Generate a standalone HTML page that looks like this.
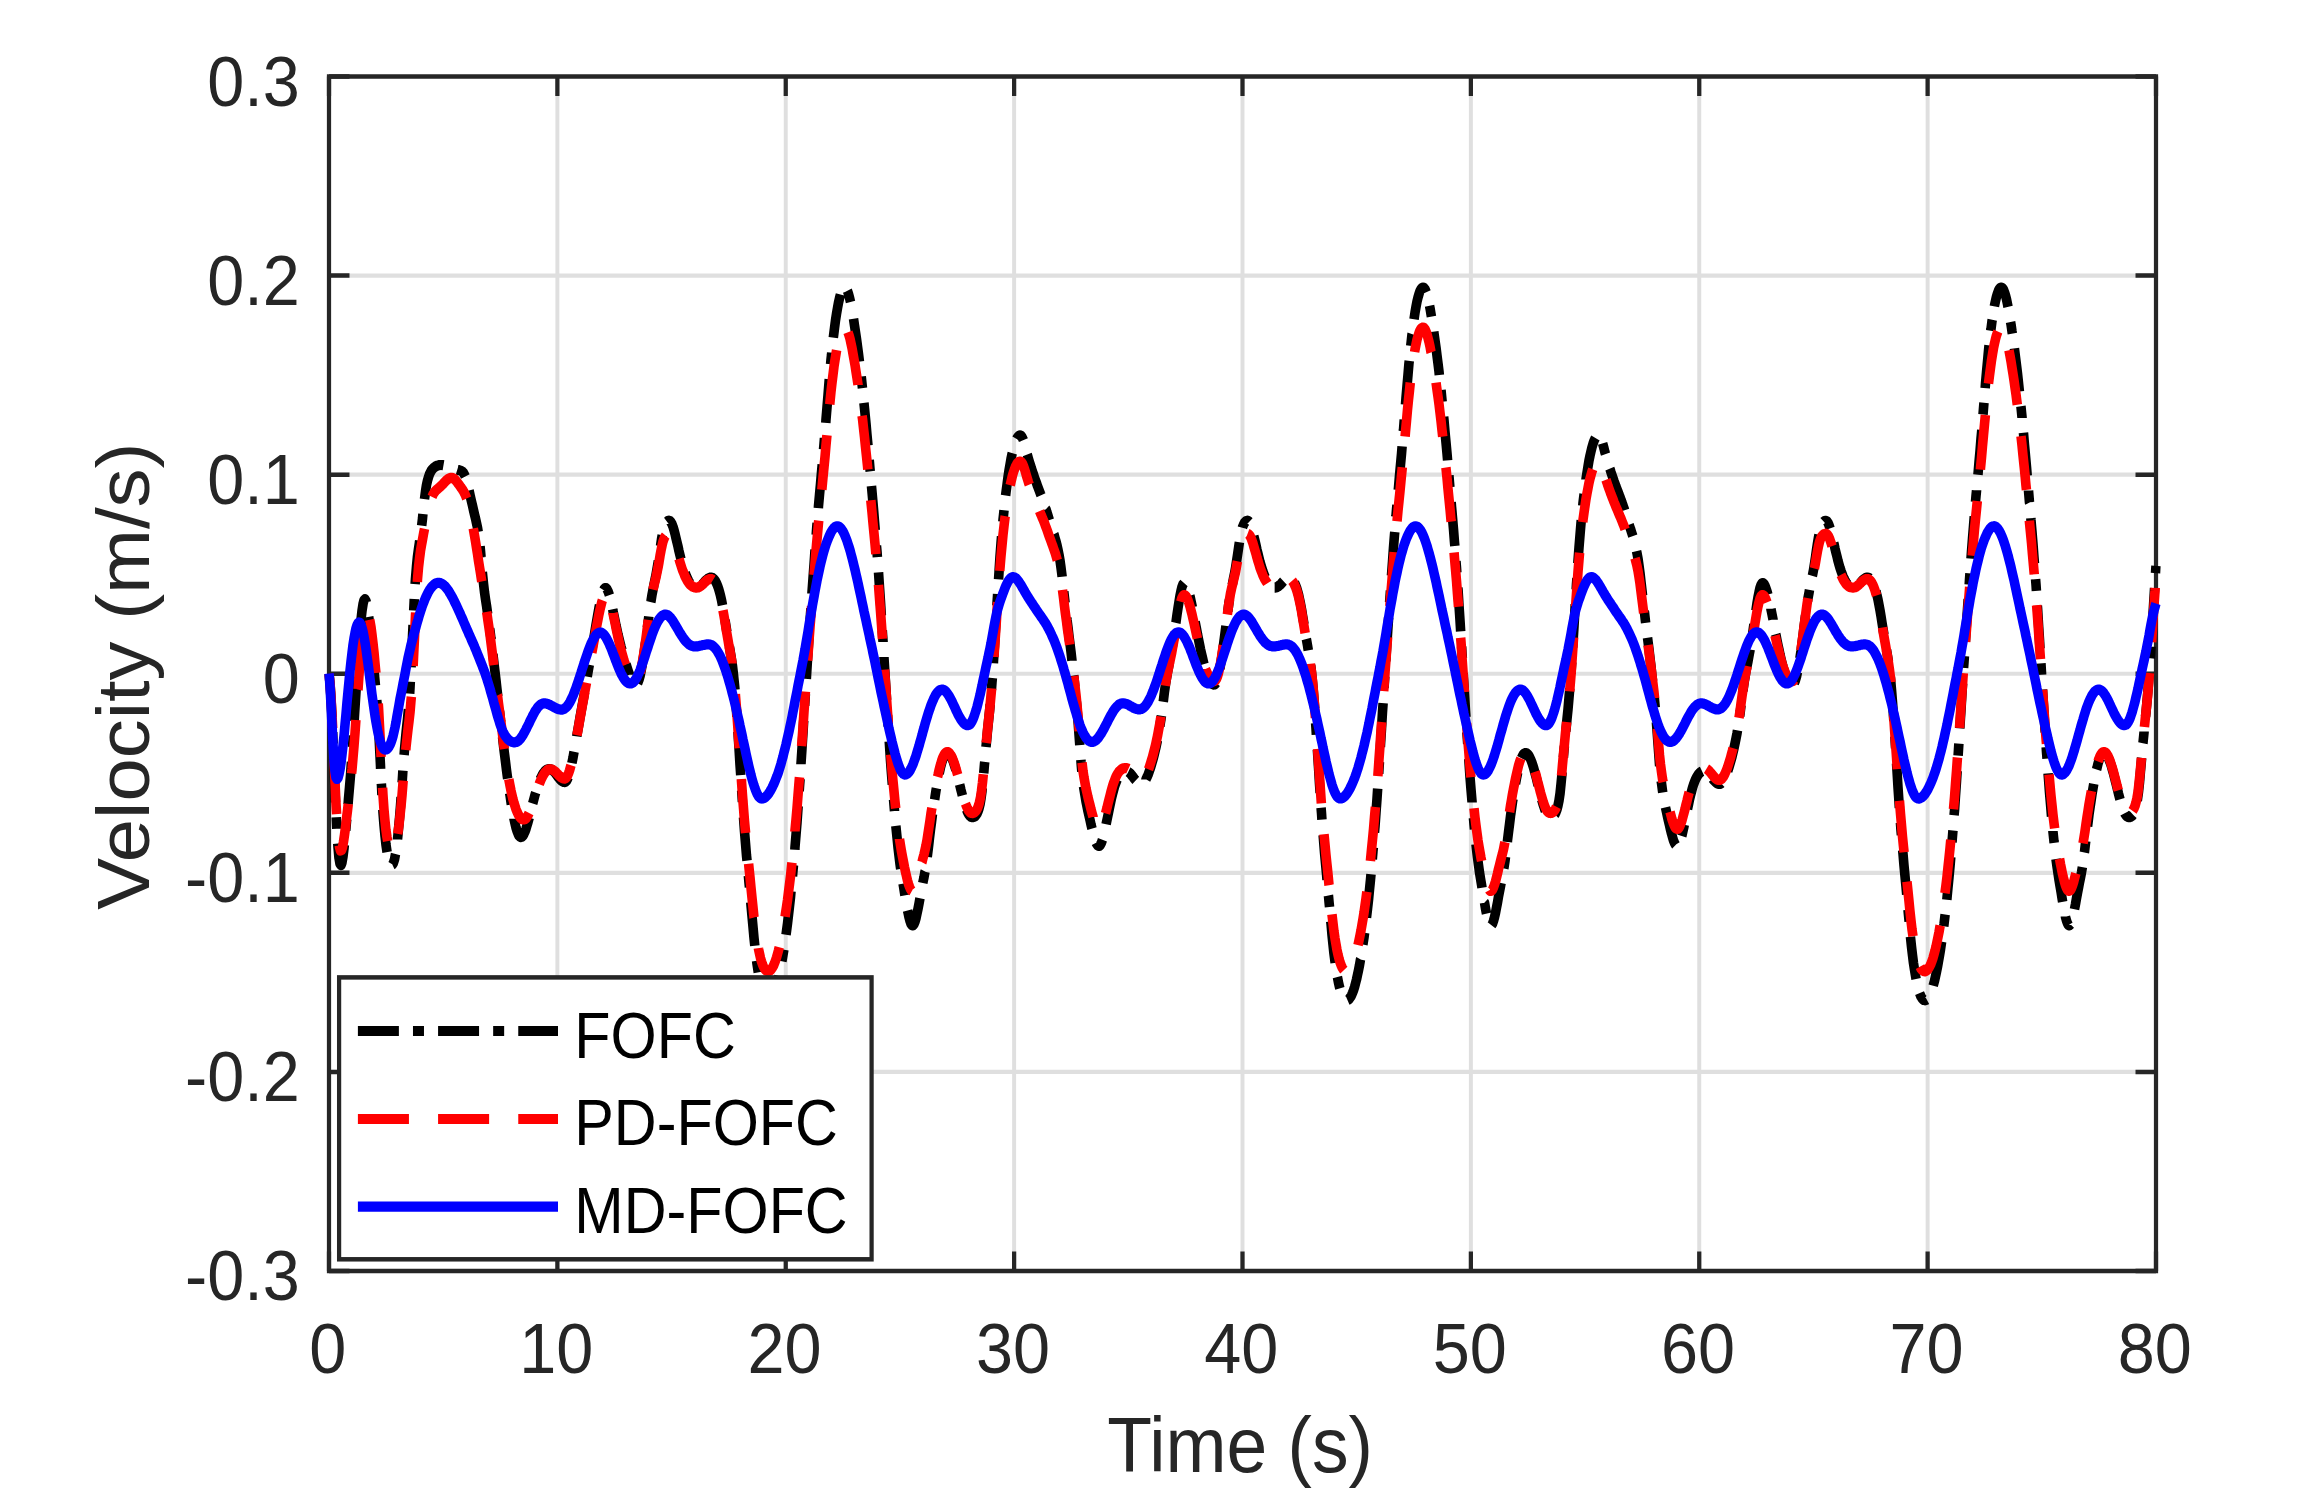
<!DOCTYPE html>
<html><head><meta charset="utf-8"><title>Velocity</title>
<style>html,body{margin:0;padding:0;background:#fff}svg{display:block}</style></head>
<body>
<svg width="2304" height="1507" viewBox="0 0 2304 1507">
<rect width="2304" height="1507" fill="#fff"/>
<g transform="scale(0.94,1)">
<path d="M592.95,76.5 V1271.0 M835.90,76.5 V1271.0 M1078.86,76.5 V1271.0 M1321.81,76.5 V1271.0 M1564.76,76.5 V1271.0 M1807.71,76.5 V1271.0 M2050.66,76.5 V1271.0 M350.00,275.58 H2293.62 M350.00,474.67 H2293.62 M350.00,673.75 H2293.62 M350.00,872.83 H2293.62 M350.00,1071.92 H2293.62" stroke="#dfdfdf" stroke-width="4.2" fill="none"/>
<path d="M350.00,1271.0 v-19.5 M350.00,76.5 v19.5 M592.95,1271.0 v-19.5 M592.95,76.5 v19.5 M835.90,1271.0 v-19.5 M835.90,76.5 v19.5 M1078.86,1271.0 v-19.5 M1078.86,76.5 v19.5 M1321.81,1271.0 v-19.5 M1321.81,76.5 v19.5 M1564.76,1271.0 v-19.5 M1564.76,76.5 v19.5 M1807.71,1271.0 v-19.5 M1807.71,76.5 v19.5 M2050.66,1271.0 v-19.5 M2050.66,76.5 v19.5 M2293.62,1271.0 v-19.5 M2293.62,76.5 v19.5 M350.00,76.50 h21.8 M2293.62,76.50 h-21.8 M350.00,275.58 h21.8 M2293.62,275.58 h-21.8 M350.00,474.67 h21.8 M2293.62,474.67 h-21.8 M350.00,673.75 h21.8 M2293.62,673.75 h-21.8 M350.00,872.83 h21.8 M2293.62,872.83 h-21.8 M350.00,1071.92 h21.8 M2293.62,1071.92 h-21.8 M350.00,1271.00 h21.8 M2293.62,1271.00 h-21.8" stroke="#262626" stroke-width="4.5" fill="none"/>
<rect x="350.00" y="76.5" width="1943.62" height="1194.5" fill="none" stroke="#262626" stroke-width="4.5"/>
<clipPath id="c"><rect x="344.90" y="71.4" width="1953.82" height="1204.7"/></clipPath>
<g clip-path="url(#c)" fill="none" stroke-linejoin="round" stroke-width="10.2">
<path d="M350.0,673.8 350.0,673.8 351.1,683.8 352.1,698.0 353.2,717.2M353.9,732.2 354.3,741.0 354.4,743.8M355.0,758.8 355.3,766.0 356.4,790.6 356.9,802.3M357.7,817.3 358.0,823.2 358.3,828.8M359.3,843.5 359.6,847.4 360.6,857.9 361.7,863.7 362.8,865.2 363.8,862.6 364.9,856.6 366.0,848.1 366.3,845.1M367.8,830.5 368.1,827.2 368.6,821.7 368.9,819.1M370.3,804.4 370.7,799.2 371.8,787.4 372.9,775.1 373.9,761.8M375.0,747.1 375.5,739.7 375.8,735.7M376.8,721.0 377.1,715.7 378.2,699.4 379.3,683.0 379.6,678.3M380.6,663.7 380.9,659.4 381.4,652.2M382.5,637.5 383.0,631.6 384.0,620.1 385.1,610.8 386.2,604.1 387.2,600.2 388.3,599.2 389.4,601.1 389.7,602.4M392.2,616.9 392.6,619.5 393.1,624.0 393.6,628.3M395.1,642.9 395.2,644.1 396.3,654.8 397.3,665.3 398.4,675.5 399.4,685.4M400.8,700.1 401.1,703.4 401.6,710.4 401.7,711.5M402.6,726.2 402.7,726.5 403.7,745.5 404.8,766.3 404.9,768.9M405.7,783.6 405.9,786.5 406.3,795.1M407.3,809.7 407.4,812.0 408.5,825.2 409.6,835.9 410.6,844.6 411.7,851.6 411.8,852.2M417.4,864.6 417.6,864.5 418.6,862.8 419.7,859.4 420.7,854.3 420.8,853.9M422.9,839.4 422.9,839.2 423.9,829.4 425.0,818.2 426.1,805.5 426.7,797.1M427.8,782.6 428.2,776.8 428.6,770.7M429.9,755.0 430.3,749.6 431.4,738.5 432.4,728.8 433.5,719.3 434.5,709.3M435.8,693.6 436.2,687.4 436.5,681.8M437.3,667.3 437.8,658.6 438.8,637.0 439.4,625.1M440.1,610.6 440.4,604.9 440.7,599.1M441.6,584.1 442.0,578.6 443.1,566.1 444.1,556.6 445.2,548.9 446.3,542.1 446.5,540.6M448.6,525.7 448.9,523.1 449.5,518.4 449.9,514.0M451.6,499.1 451.6,499.1 452.7,491.2 453.7,485.2 454.8,480.5 455.9,476.9 456.9,474.2 458.0,472.1 459.0,470.4 460.1,469.1 461.2,468.0 462.2,467.2 463.3,466.5 464.4,466.0 465.4,465.6 466.5,465.3 467.6,465.1 468.6,465.0 469.7,465.0 470.7,465.1 471.8,465.3 471.8,465.3M486.4,469.8 486.7,469.9 487.8,470.1 488.8,470.3 489.9,470.6 491.0,471.1 492.0,471.8 493.1,472.9 494.1,474.7 495.0,476.5M499.0,490.5 499.5,492.6 500.5,497.1 501.6,501.4 502.7,505.7 503.7,510.0 504.8,514.4 505.9,518.6 506.9,523.0 508.0,527.7 508.7,531.8M510.7,546.3 511.2,551.2 511.7,556.8 511.8,557.6M513.1,572.1 513.3,573.9 514.4,583.8 515.4,592.0 516.5,599.2 517.6,605.9 518.6,612.8 518.8,614.1M520.9,628.6 521.3,630.9 522.3,638.6 522.5,639.8M524.4,654.3 524.5,654.9 525.5,663.4 526.6,672.0 527.7,680.7 528.7,689.4 529.6,696.4M531.4,710.9 531.4,711.0 532.4,719.7 532.8,722.2M534.5,736.7 534.6,736.9 535.6,745.4 536.7,753.8 537.8,762.0 538.8,769.9 539.9,777.6 540.1,778.7M542.2,793.1 542.6,795.4 543.6,801.9 544.0,804.4M546.8,818.7 546.8,818.9 547.9,823.5 548.9,827.6 550.0,831.0 551.1,833.6 552.1,835.6 553.2,836.7 554.3,837.1 555.3,836.7 556.4,835.6 557.4,833.9 558.5,831.6 559.6,828.8 560.6,825.6 561.7,822.1 562.8,818.3 563.0,817.6M566.7,803.5 567.0,802.5 568.1,798.7 569.1,795.0 569.9,792.6M574.9,778.9 575.0,778.6 576.1,776.5 577.1,774.6 578.2,773.0 579.3,771.7 580.3,770.7 581.4,769.9 582.4,769.4 583.5,769.1 584.6,769.0 585.6,769.2 586.7,769.6 587.8,770.2 588.8,771.1 589.9,772.1 591.0,773.3 592.0,774.6 593.1,776.0 594.1,777.3 595.2,778.5 596.3,779.7 597.3,780.6 598.4,781.4 599.5,781.9 600.5,782.1 601.6,781.8 602.7,780.8 603.7,779.0 604.5,777.2M608.4,763.2 608.5,762.6 609.6,757.6 610.6,752.2 610.7,751.7M613.6,736.4 613.8,735.0 614.9,729.2 616.0,723.4 617.0,717.7 618.1,712.1 619.1,706.6 620.2,701.0 621.3,695.4 621.9,692.0M624.7,676.7 625.0,675.0 626.1,669.1 626.9,664.8M629.7,649.5 629.8,648.7 630.9,642.9 631.9,637.0 633.0,631.0 634.0,625.0 635.1,619.1 636.2,613.3 637.2,607.8 637.8,605.0M642.1,590.1 642.6,589.3 643.6,588.2 644.7,588.1 645.7,589.1 646.8,591.1 647.9,594.0 648.3,595.2M651.8,609.3 652.1,610.9 653.2,615.7 654.3,620.6 655.3,625.3 656.4,629.9 657.4,634.3 658.5,638.6 659.6,642.7 660.6,646.6 661.7,650.3M666.0,664.1 666.5,665.7 667.6,668.9 668.6,671.9 669.7,674.7 669.7,674.8M678.3,683.2 678.7,682.4 679.8,679.7 680.9,676.1 681.9,671.5 683.0,666.1 684.0,660.1 685.1,653.5 686.2,646.3 686.8,642.1M688.7,627.7 688.8,626.9 689.9,619.0 690.2,616.5M692.3,602.1 692.6,600.8 693.6,594.8 694.7,589.7 695.7,584.5 696.8,579.6 697.9,574.7 698.9,569.3 700.0,563.2 700.4,560.7M702.6,546.4 702.7,546.0 703.7,539.5 704.5,535.2M709.6,521.8 709.6,521.8 710.6,521.0 711.7,520.7 712.8,521.1 713.8,522.2 714.9,524.1 716.0,526.8 717.0,530.1 718.1,533.9 719.1,538.0 720.2,542.2 721.3,546.6 722.3,551.0 723.4,555.2 724.4,559.0M729.0,573.2 729.3,573.8 730.3,576.4 731.4,578.6 732.4,580.6 733.5,582.4 734.4,583.5M747.0,584.4 747.3,584.1 748.4,583.0 749.5,581.9 750.5,580.8 751.6,579.8 752.7,579.0 753.7,578.3 754.8,577.8 755.9,577.5 756.9,577.6 758.0,577.9 759.0,578.7 760.1,579.8 761.2,581.3 762.2,583.2 763.3,585.6 764.4,588.5 765.4,591.8 766.5,595.7 767.6,600.2 768.6,605.3M771.3,620.1 771.8,623.1 772.9,629.5 773.2,631.7M775.9,646.5 776.1,647.4 777.1,653.2 778.2,659.4 779.3,666.4 780.3,674.7 781.4,684.7 781.9,689.8M783.1,704.8 783.5,710.5 783.9,716.6M785.0,731.6 785.1,733.0 786.2,748.6 787.2,764.4 788.0,775.2M789.0,790.3 789.4,796.0 789.8,802.0M790.9,817.0 791.0,817.8 792.0,831.1 793.1,843.5 794.1,855.1 794.7,860.6M796.1,875.6 796.3,877.3 796.8,882.7 797.3,887.3M798.7,902.3 798.9,904.8 800.0,916.0 801.1,927.2 802.1,937.8 803.0,945.8M804.9,960.8 805.3,963.7 806.4,970.5 806.7,972.4M809.8,987.1 810.1,988.2 811.2,991.7 812.2,994.6 813.3,996.8 814.4,998.4 815.4,999.5 816.5,1000.1 817.6,1000.3 818.6,1000.0 819.7,999.3 820.7,998.2 821.8,996.6 822.9,994.6 823.9,992.2 825.0,989.4 826.1,986.1 827.1,982.4 828.2,978.2 828.7,976.0M831.8,961.2 831.9,960.7 833.0,954.9 833.9,949.7M836.2,934.8 836.7,931.2 837.8,923.4 838.8,915.1 839.9,906.2 841.0,896.8 841.5,891.4M843.1,876.4 843.1,876.3 844.1,865.2 844.2,864.7M845.6,849.7 845.7,847.6 846.8,835.1 847.9,822.2 848.9,808.6 849.1,806.1M850.2,791.1 850.5,787.0 851.1,779.4 851.1,779.3M852.1,764.3 852.1,764.0 853.2,748.1 854.3,732.0 855.0,720.6M856.0,705.6 856.4,699.6 856.8,693.9M857.8,678.9 858.0,675.7 859.0,660.2 860.1,644.8 860.8,635.2M861.8,620.2 862.2,614.7 862.7,608.5M863.8,593.5 863.8,592.7 864.9,578.4 866.0,564.4 867.0,550.7 867.1,549.8M868.3,534.8 868.6,531.0 869.1,524.6 869.3,523.1M870.6,508.1 870.7,506.5 871.8,495.0 872.9,483.8 873.9,472.6 874.7,464.5M876.1,449.5 876.6,444.0 877.1,438.1 877.1,437.8M878.5,422.8 878.7,419.7 879.8,407.2 880.9,394.8 881.9,382.7 882.2,379.2M883.6,364.2 884.0,360.1 884.6,354.9 884.8,352.6M886.5,337.6 886.7,336.2 887.8,328.0 888.8,320.6 889.9,313.9 891.0,307.9 892.0,302.7 893.1,298.2 894.1,294.5M901.5,290.8 901.6,291.0 902.7,294.0 903.7,297.7 904.8,302.1 904.8,302.1M908.0,318.8 908.0,318.8 909.0,325.2 910.1,332.0 911.2,339.0 912.2,346.3 913.3,353.9 914.3,361.7M916.2,376.5 916.5,379.0 917.0,383.5 917.5,388.1M919.1,402.9 919.1,402.9 920.2,413.2 921.3,423.8 922.3,434.7 923.4,445.4M924.7,460.0 925.0,462.9 925.5,468.6 925.8,471.4M927.1,486.0 927.1,486.0 928.2,497.6 929.3,509.3 930.3,521.1 931.1,530.1M932.4,545.3 932.4,545.7 933.0,552.1 933.4,557.2M934.6,572.4 934.6,572.4 935.6,586.7 936.7,601.8 937.6,615.6M938.6,630.4 938.8,633.4 939.4,641.5 939.4,642.0M940.4,656.9 940.4,657.9 941.5,674.4 942.6,690.8 943.2,700.1M944.2,715.0 944.7,722.8 944.9,726.6M946.0,741.5 946.3,745.7 947.3,760.2 948.4,773.9 949.3,784.7M950.6,799.5 951.1,805.2 951.6,811.0 951.6,811.1M953.0,825.9 953.2,827.5 954.3,837.6 955.3,847.1 956.4,855.8 957.4,863.7 958.2,868.9M960.7,883.6 961.2,886.4 962.2,892.5 962.7,895.3M965.5,910.5 966.0,912.6 967.0,917.2 968.1,921.0 969.1,923.7 970.2,925.2 971.3,925.4 972.3,924.1 973.4,921.6 974.5,918.1 975.5,913.7 976.6,908.8 977.7,903.5 978.7,898.2M981.7,883.1 981.9,882.1 983.0,877.1 984.0,871.7 984.1,871.5M986.4,856.9 986.7,854.7 987.8,846.6 988.8,838.1 989.9,829.7 991.0,821.7 992.0,814.2M994.3,799.6 994.7,797.0 995.7,790.7 996.2,788.2M999.1,773.6 999.5,771.8 1000.5,767.3 1001.6,763.5 1002.7,760.1 1003.7,757.4 1004.8,755.4 1005.9,753.9 1006.9,753.1 1008.0,753.0 1009.0,753.4 1010.1,754.3 1011.2,755.6 1012.2,757.4 1013.3,759.7 1014.4,762.3 1015.4,765.3 1016.5,768.6 1016.9,770.0M1020.9,784.4 1021.3,786.0 1022.3,790.0 1023.4,794.0 1023.8,795.6M1028.3,809.7 1028.7,810.7 1029.8,813.0 1030.9,814.8 1031.9,816.0 1033.0,816.8 1034.0,817.1 1035.1,817.2 1036.2,816.9 1037.2,816.3 1038.3,815.2 1039.4,813.6 1040.4,811.4 1041.5,808.4 1042.6,804.3 1043.6,798.7 1044.7,791.0 1045.0,788.0M1046.5,773.3 1046.8,770.2 1047.3,764.4 1047.6,761.8M1048.9,747.0 1049.5,741.6 1050.5,731.3 1051.6,721.3 1052.7,711.3 1053.4,704.3M1054.7,689.5 1054.8,688.8 1055.3,682.4 1055.7,678.0M1056.8,663.3 1056.9,661.2 1058.0,645.6 1059.0,629.2 1059.6,620.3M1060.5,605.6 1060.6,604.1 1061.2,595.8 1061.3,594.0M1062.3,579.3 1062.8,571.8 1063.8,557.0 1064.9,543.3 1065.5,536.4M1066.9,521.6 1067.0,520.0 1067.6,514.8 1068.1,510.2M1069.8,495.5 1070.2,492.3 1071.3,484.6 1072.3,477.4 1073.4,470.7 1074.5,464.7 1075.5,459.2 1076.6,454.2 1076.9,453.1M1081.5,439.0 1081.9,438.3 1083.0,436.8 1084.0,435.8 1085.1,435.4 1086.2,435.8 1087.2,437.0 1088.3,439.2 1088.7,440.2M1092.8,454.5 1093.1,455.3 1094.1,458.8 1095.2,462.2 1096.3,465.4 1097.3,468.5 1098.4,471.6 1099.5,474.6 1100.5,477.6 1101.6,480.4 1102.7,483.2 1103.7,485.9 1104.8,488.6 1105.9,491.3 1106.9,493.9 1107.5,495.3M1112.7,509.2 1112.8,509.3 1113.8,512.5 1114.9,515.7 1116.0,519.0 1116.4,520.2M1121.2,534.3 1121.3,534.5 1122.3,537.9 1123.4,541.4 1124.5,545.4 1125.5,549.7 1126.6,554.8 1127.7,560.7 1128.7,567.6 1129.8,575.6 1129.9,576.7M1131.7,591.5 1131.9,593.3 1133.0,602.4 1133.1,603.0M1134.9,617.8 1135.1,619.6 1136.2,627.8 1137.2,635.8 1138.3,643.9 1139.4,652.1 1140.4,660.6 1140.4,660.7M1142.2,675.5 1142.6,678.4 1143.1,683.0 1143.5,687.1M1145.1,701.9 1145.2,702.8 1146.3,714.2 1147.3,727.2 1148.4,741.2 1148.7,745.1M1149.9,759.9 1150.0,761.6 1150.5,767.5 1150.9,771.5M1152.7,786.3 1153.2,789.3 1154.3,795.7 1155.3,801.3 1156.4,806.4 1157.4,811.1 1158.5,815.6 1159.6,820.0 1160.6,824.4 1161.7,828.6M1166.1,842.8 1166.5,843.6 1167.6,845.2 1168.6,845.9 1169.7,845.8 1170.7,844.7 1171.8,842.6 1172.8,839.8M1176.7,824.3 1177.1,822.4 1178.2,817.5 1179.3,812.5 1180.3,807.7 1181.4,802.9 1182.4,798.4 1183.5,794.2 1184.6,790.3 1185.6,786.9 1186.7,783.8 1187.8,781.1 1188.5,779.5M1200.3,771.9 1200.5,772.0 1201.6,772.8 1202.7,773.8 1203.7,775.0 1204.8,776.2 1205.9,777.6 1206.9,778.9 1208.0,780.1 1208.3,780.4M1219.1,779.4 1219.1,779.3 1220.2,777.2 1221.3,774.9 1222.3,772.2 1223.4,769.3 1224.5,766.1 1225.5,762.8 1226.6,759.2 1227.7,755.4 1228.7,751.3 1229.8,746.9 1230.9,742.2 1231.2,740.4M1233.9,726.6 1234.0,725.5 1235.1,718.8 1235.6,715.7M1237.5,701.7 1237.8,699.5 1238.8,691.7 1239.9,684.5 1241.0,678.2 1242.0,672.5 1243.1,667.2 1244.1,662.1 1244.3,661.4M1247.0,647.5 1247.3,645.6 1248.4,639.2 1248.8,636.7M1250.9,622.8 1251.1,621.9 1252.1,614.9 1253.2,608.0 1254.3,601.6 1255.3,595.8 1256.4,590.8 1257.4,586.9 1258.5,584.3 1259.6,583.0M1265.8,595.9 1266.0,596.5 1267.0,600.9 1268.1,605.6 1268.4,607.2M1271.4,621.8 1271.8,623.8 1272.9,629.0 1273.9,634.2 1275.0,639.3 1276.1,644.3 1277.1,649.1 1278.2,653.7 1279.3,658.1 1280.3,662.2 1280.8,664.1M1285.8,678.2 1286.2,678.9 1287.2,680.7 1288.3,682.2 1289.4,683.4 1290.4,684.2 1291.5,684.6 1292.6,684.4 1293.6,683.0M1297.7,668.7 1297.9,667.8 1298.9,662.0 1300.0,655.5 1301.1,648.5 1302.1,641.1 1303.2,633.3 1304.2,625.9M1306.2,611.1 1306.4,609.8 1307.4,602.7 1308.0,599.6M1310.9,585.0 1311.2,583.5 1312.2,578.6 1313.3,573.6 1314.4,568.1 1315.4,561.9 1316.5,555.1 1317.6,548.1 1318.5,542.3M1321.7,527.7 1321.8,527.3 1322.9,524.7 1323.9,522.8 1325.0,521.6 1326.1,520.9 1327.1,520.7 1328.2,521.2 1328.9,521.9M1333.8,535.9 1334.0,536.7 1335.1,540.9 1336.2,545.3 1337.2,549.7 1338.3,553.9 1339.4,558.0 1340.4,561.9 1341.5,565.4 1342.6,568.7 1343.6,571.6 1344.7,574.4 1345.7,576.9 1346.0,577.5M1356.0,587.6 1356.4,587.6 1357.4,587.5 1358.5,587.1 1359.6,586.5 1360.6,585.8 1361.7,584.9 1362.8,583.9 1363.8,582.8 1364.9,581.7 1365.4,581.2M1377.0,582.3 1377.1,582.6 1378.2,584.9 1379.3,587.6 1380.3,590.8 1381.4,594.5 1382.4,598.8 1383.5,603.7 1384.6,609.2 1385.6,615.0 1386.7,621.2 1387.2,624.3M1389.7,639.0 1389.9,639.8 1391.0,645.6 1391.8,650.4M1394.3,665.1 1394.7,667.9 1395.7,676.5 1396.8,687.0 1397.9,699.4 1398.6,708.3M1399.6,723.2 1400.0,728.4 1400.4,734.8M1401.5,749.7 1401.6,751.7 1402.7,767.6 1403.7,783.5 1404.4,792.9M1405.4,807.8 1405.9,813.6 1406.3,819.6M1407.6,835.1 1408.0,839.8 1409.0,851.7 1410.1,863.0 1411.2,874.0 1411.7,879.9M1413.2,895.4 1413.3,895.9 1413.8,901.4 1414.4,907.0M1415.7,921.3 1416.0,923.9 1417.0,934.7 1418.1,944.7 1419.1,953.6 1420.2,961.5 1420.4,962.9M1422.8,977.1 1422.9,977.5 1423.9,982.6 1425.0,987.0 1425.4,988.4M1433.5,1000.1 1433.5,1000.1 1434.6,999.6 1435.6,998.6 1436.7,997.1 1437.8,995.3 1438.8,993.0 1439.9,990.3 1441.0,987.1 1442.0,983.5 1443.1,979.5 1444.1,975.1 1445.2,970.3 1446.3,965.1 1447.3,959.6 1447.4,959.4M1449.9,944.5 1450.0,944.0 1451.1,937.1 1451.7,932.8M1453.7,917.9 1453.7,917.6 1454.8,908.9 1455.9,899.7 1456.9,889.8 1458.0,879.5 1458.5,874.3M1459.9,859.2 1460.1,857.1 1460.6,851.2 1461.0,847.5M1462.2,832.5 1462.8,826.1 1463.8,812.8 1464.9,798.7 1465.6,788.7M1466.7,773.7 1467.0,768.7 1467.5,761.9M1468.5,746.9 1468.6,744.9 1469.7,728.7 1470.7,712.5 1471.4,703.1M1472.4,688.0 1472.9,680.5 1473.2,676.3M1474.2,661.2 1474.5,657.1 1475.5,641.8 1476.6,626.7 1477.3,617.4M1478.3,602.4 1478.7,597.1 1479.2,590.6M1480.3,575.6 1480.3,575.6 1481.4,561.6 1482.4,548.0 1483.5,534.8 1483.8,531.9M1485.0,516.8 1485.1,516.0 1485.6,510.1 1486.1,505.1M1487.5,490.1 1487.8,487.2 1488.8,476.0 1489.9,464.8 1491.0,453.4 1491.6,446.4M1492.9,431.3 1493.1,429.6 1493.6,423.4 1493.9,419.6M1495.2,404.6 1495.7,398.5 1496.8,386.3 1497.9,374.5 1498.9,363.3 1499.2,360.9M1500.8,345.9 1501.1,343.3 1502.1,334.5 1502.2,334.2M1504.3,319.2 1504.3,319.2 1505.3,312.7 1506.4,306.8 1507.4,301.8 1508.5,297.5 1509.6,293.9 1510.6,291.1 1511.7,289.1 1512.8,287.9 1513.8,287.5 1514.9,288.0 1516.0,289.3 1517.0,291.6 1517.3,292.3M1520.8,305.7 1521.3,308.2 1522.3,313.9 1522.8,316.7M1525.3,331.6 1525.5,333.4 1526.6,340.5 1527.7,347.8 1528.7,355.5 1529.8,363.5 1530.9,371.9 1531.2,375.1M1533.0,390.1 1533.0,390.1 1534.0,399.9 1534.2,401.8M1535.8,416.8 1536.2,420.6 1537.2,431.4 1538.3,442.4 1539.4,453.7 1540.0,460.4M1541.4,475.4 1541.5,476.7 1542.0,482.5 1542.4,487.2M1543.8,502.2 1544.1,505.8 1545.2,517.5 1546.3,529.5 1547.3,541.8 1547.7,545.9M1548.9,560.9 1548.9,561.3 1549.5,568.2 1549.8,572.6M1550.9,587.7 1551.1,589.7 1552.1,604.8 1553.2,620.5 1553.9,631.4M1554.9,646.5 1555.3,653.0 1555.7,658.2M1556.6,673.3 1556.9,677.7 1558.0,694.1 1559.0,710.2 1559.5,717.1M1560.5,732.1 1560.6,733.7 1561.2,741.2 1561.4,743.8M1562.5,758.9 1562.8,763.0 1563.8,776.6 1564.9,789.5 1566.0,801.7 1566.0,802.6M1567.4,817.6 1567.6,818.9 1568.1,824.3 1568.6,829.3M1570.2,844.3 1570.7,848.8 1571.8,857.4 1572.9,865.1 1573.9,872.1 1575.0,878.5 1576.1,884.6 1576.6,887.7M1579.2,902.6 1579.3,902.7 1580.3,908.4 1581.4,913.6 1581.4,913.6M1586.7,925.2 1586.7,925.2 1587.8,923.7 1588.8,921.0 1589.9,917.3 1591.0,912.8 1592.0,907.8 1593.1,902.4 1594.1,896.9 1595.2,891.4 1596.3,886.1 1596.9,883.1M1599.8,868.4 1600.0,867.5 1601.1,860.7 1601.6,856.8M1603.6,842.0 1603.7,840.7 1604.8,832.2 1605.9,824.0 1606.9,816.3 1608.0,809.1 1609.0,802.2 1609.6,798.8M1612.2,784.0 1612.2,783.7 1613.3,778.2 1614.4,773.2 1614.5,772.6M1618.6,758.2 1618.6,758.2 1619.7,755.9 1620.7,754.3 1621.8,753.3 1622.9,753.0 1623.9,753.2 1625.0,754.0 1626.1,755.2 1627.1,756.9 1628.2,759.0 1629.3,761.5 1630.3,764.3 1631.4,767.5 1632.4,771.0 1633.5,774.8 1634.6,778.7 1635.6,782.7 1636.3,785.4M1640.2,799.7 1640.4,800.5 1641.5,804.0 1642.6,807.2 1643.6,810.0 1643.9,810.6M1654.2,814.3 1654.3,814.2 1655.3,812.2 1656.4,809.4 1657.4,805.7 1658.5,800.6 1659.6,793.6 1660.6,784.5 1661.7,773.7 1661.8,772.2M1663.2,757.5 1663.3,756.2 1663.8,750.4 1664.3,746.0M1665.7,731.3 1666.0,729.2 1667.0,719.3 1668.1,709.2 1669.1,698.3 1670.0,688.4M1671.2,673.7 1671.3,672.9 1671.8,665.7 1672.1,662.1M1673.1,647.4 1673.4,642.4 1674.5,625.9 1675.5,609.2 1675.8,604.4M1676.8,589.6 1677.1,584.4 1677.6,578.1M1678.6,563.3 1678.7,561.3 1679.8,547.3 1680.9,534.6 1681.9,523.2 1682.2,520.4M1683.8,505.7 1684.0,503.4 1685.1,494.8 1685.2,494.2M1687.2,479.6 1687.2,479.5 1688.3,472.7 1689.4,466.4 1690.4,460.7 1691.5,455.6 1692.6,451.1 1693.6,447.2 1694.7,443.8 1695.7,441.0 1696.8,438.8 1697.3,437.9M1704.9,443.3 1705.3,444.7 1706.4,448.5 1707.4,452.4 1708.0,454.2M1712.6,468.7 1712.8,469.2 1713.8,472.2 1714.9,475.2 1716.0,478.2 1717.0,481.0 1718.1,483.8 1719.1,486.5 1720.2,489.2 1721.3,491.8 1722.3,494.5 1723.4,497.1 1724.5,499.8 1725.5,502.6 1726.6,505.4 1727.7,508.4 1728.3,510.3M1733.1,524.8 1733.5,525.9 1734.6,528.9 1735.6,532.0 1736.7,535.2 1737.0,536.1M1741.0,551.1 1741.5,553.2 1742.6,558.8 1743.6,565.4 1744.7,573.1 1745.7,581.6 1746.8,590.6 1747.4,595.7M1749.2,611.1 1749.5,612.9 1750.5,621.3 1750.7,622.9M1752.7,637.8 1753.2,641.5 1754.3,649.6 1755.3,658.1 1756.4,666.7 1757.4,675.7 1758.1,681.1M1759.7,696.0 1760.1,699.7 1760.6,705.0 1760.9,707.6M1762.2,722.6 1762.2,723.1 1763.3,736.9 1764.4,751.1 1765.4,764.0 1765.6,766.1M1767.2,781.0 1767.6,783.4 1768.6,790.6 1768.9,792.6M1771.8,807.3 1771.8,807.3 1772.9,812.0 1773.9,816.5 1775.0,820.9 1776.1,825.3 1777.1,829.5 1778.2,833.6 1779.3,837.2 1780.3,840.4 1781.4,843.0 1782.4,844.8 1782.6,845.0M1789.1,836.0 1789.4,835.1 1790.4,830.8 1791.5,826.2 1791.8,824.8M1795.2,809.1 1795.2,809.1 1796.3,804.3 1797.3,799.7 1798.4,795.4 1799.5,791.5 1800.5,787.9 1801.6,784.7 1802.7,781.9 1803.7,779.5 1804.8,777.5 1805.9,775.7 1806.9,774.3 1808.0,773.1 1809.0,772.2 1810.1,771.6 1810.7,771.3M1822.0,778.7 1822.3,779.1 1823.4,780.4 1824.5,781.5 1825.5,782.5 1826.6,783.2 1827.7,783.8 1828.7,784.0 1829.8,783.9 1830.9,783.5 1831.0,783.4M1838.0,771.0 1838.3,770.2 1839.4,767.1 1840.4,763.8 1841.5,760.3 1842.6,756.5 1843.6,752.5 1844.7,748.2 1845.7,743.6 1846.8,738.6 1847.9,733.2 1848.4,730.4M1850.7,716.2 1851.1,713.7 1852.1,705.9 1852.2,705.1M1854.2,690.8 1854.3,690.2 1855.3,683.2 1856.4,677.0 1857.4,671.4 1858.5,666.2 1859.6,661.1 1860.6,655.9 1861.7,650.3 1861.8,649.6M1864.2,635.4 1864.4,634.5 1865.4,627.6 1865.9,624.3M1868.1,610.1 1868.1,610.0 1869.1,603.4 1870.2,597.4 1871.3,592.2 1872.3,588.0 1873.4,584.9 1874.5,583.2 1875.5,583.0 1876.6,584.0 1877.7,585.8 1878.7,588.3 1879.8,591.5 1880.7,594.7M1884.0,608.7 1884.0,609.1 1885.1,614.3 1886.2,619.5 1886.2,619.8M1889.1,634.2 1889.4,635.3 1890.4,640.3 1891.5,645.3 1892.6,650.0 1893.6,654.6 1894.7,658.9 1895.7,663.0 1896.8,666.7 1897.9,670.1 1898.9,673.2 1899.8,675.4M1908.8,683.0 1909.0,682.6 1910.1,680.1 1911.2,676.5 1912.2,672.2M1914.9,657.7 1914.9,657.5 1916.0,650.7 1917.0,643.4 1918.1,635.6 1919.1,627.7 1920.2,619.7 1920.8,615.5M1922.9,601.0 1923.4,598.3 1924.5,592.7 1925.0,589.9M1928.0,575.9 1928.2,575.2 1929.3,569.8 1930.3,563.9 1931.4,557.2 1932.4,550.2 1933.5,543.4 1934.6,537.2 1935.1,534.8M1940.2,521.6 1940.4,521.4 1941.5,520.8 1942.6,520.8 1943.6,521.4 1944.7,522.8 1945.7,525.1 1946.8,528.0 1946.9,528.3M1950.8,543.1 1951.1,544.0 1952.1,548.4 1953.2,552.7 1954.3,556.8 1955.3,560.8 1956.4,564.4 1957.4,567.7 1958.5,570.8 1959.6,573.6 1960.6,576.1 1961.7,578.4 1962.8,580.5 1963.8,582.2 1964.9,583.7 1965.7,584.6M1978.6,583.2 1978.7,583.1 1979.8,582.0 1980.9,580.9 1981.9,579.9 1983.0,579.1 1984.0,578.4 1985.1,577.8 1986.2,577.6 1987.2,577.6 1988.3,577.9 1988.4,578.0M1995.6,591.1 1995.7,591.5 1996.8,595.3 1997.9,599.7 1998.9,604.7 2000.0,610.3 2001.1,616.3 2002.1,622.5 2003.2,628.8 2004.2,634.7M2006.9,649.8 2007.4,652.6 2008.5,658.8 2009.0,661.6M2011.0,676.7 2011.2,678.5 2012.2,689.3 2013.3,702.1 2014.4,716.4 2014.7,721.0M2015.8,736.3 2016.0,739.2 2016.5,747.0 2016.6,748.2M2017.6,763.4 2018.1,770.8 2019.1,786.7 2020.2,802.0 2020.6,807.8M2021.8,823.1 2021.8,823.3 2022.3,829.8 2022.8,835.0M2024.1,850.2 2024.5,854.0 2025.5,865.2 2026.6,876.2 2027.7,887.1 2028.4,894.4M2029.8,909.7 2030.3,914.9 2030.9,920.5 2031.0,921.6M2032.4,936.8 2032.4,936.8 2033.5,946.6 2034.6,955.3 2035.6,963.0 2036.7,969.8 2037.8,975.9 2038.4,979.0M2042.1,993.1 2042.6,994.3 2043.6,996.6 2044.7,998.3 2045.7,999.4 2046.8,1000.1 2047.9,1000.3 2048.9,1000.1 2049.8,999.6M2056.6,985.8 2056.9,984.6 2058.0,980.8 2059.0,976.5 2060.1,971.8 2061.2,966.7 2062.2,961.3 2063.3,955.5 2064.4,949.3 2065.4,942.7 2065.6,941.6M2067.8,926.2 2068.1,924.2 2069.1,915.9 2069.3,914.5M2071.1,899.8 2071.3,897.8 2072.3,887.8 2073.4,877.3 2074.5,866.3 2075.3,857.0M2076.6,842.2 2077.1,836.4 2077.6,830.5M2078.8,815.3 2079.3,810.0 2080.3,795.8 2081.4,781.0 2082.1,771.0M2083.1,755.7 2083.5,749.7 2083.9,743.7M2084.9,728.3 2085.1,725.5 2086.2,709.3 2087.2,693.2 2087.9,683.3M2088.9,667.8 2089.4,661.7 2089.8,656.1M2090.8,641.5 2091.0,638.8 2092.0,623.7 2093.1,608.8 2093.8,599.2M2094.9,584.6 2095.2,579.8 2095.7,573.3M2096.8,558.7 2097.3,552.1 2098.4,538.7 2099.5,525.9 2100.3,516.4M2101.6,501.9 2102.1,496.2 2102.7,490.5 2102.7,490.2M2104.2,474.8 2104.3,473.8 2105.3,462.5 2106.4,451.1 2107.4,439.3 2108.3,430.0M2109.6,414.5 2110.1,408.5 2110.6,402.8M2111.9,388.1 2112.2,383.9 2113.3,372.2 2114.4,361.2 2115.4,350.9 2116.0,345.4M2117.8,330.7 2118.1,328.8 2119.1,321.3 2119.4,319.7M2121.7,306.3 2121.8,305.7 2122.9,300.8 2123.9,296.7 2125.0,293.3 2126.1,290.6 2127.1,288.8 2128.2,287.7 2129.3,287.5 2130.3,288.1 2131.4,289.7 2132.4,292.1 2133.5,295.4 2134.6,299.4 2135.6,304.0 2136.2,306.9M2138.9,322.0 2139.4,324.6 2140.4,331.3 2140.8,333.6M2143.0,348.4 2143.1,349.3 2144.1,357.0 2145.2,365.1 2146.3,373.6 2147.3,382.6 2148.3,391.5M2149.9,406.3 2150.0,407.0 2151.1,417.4 2151.1,417.9M2152.6,432.7 2152.7,433.6 2153.7,444.7 2154.8,456.0 2155.9,467.5 2156.6,475.8M2158.0,490.6 2158.0,490.7 2159.0,502.3 2159.1,502.5M2160.5,518.1 2160.6,519.9 2161.7,531.9 2162.8,544.4 2163.8,557.3 2164.3,563.5M2165.5,579.1 2166.0,585.2 2166.4,590.9M2167.4,605.7 2167.6,607.9 2168.6,623.7 2169.7,639.9 2170.2,648.5M2171.2,663.3 2171.3,664.5 2171.8,672.7 2171.9,674.8M2172.9,689.5 2173.4,697.3 2174.5,713.4 2175.5,729.1 2175.8,732.4M2176.8,747.1 2177.1,751.6 2177.7,758.6M2178.8,773.4 2179.3,779.2 2180.3,792.0 2181.4,804.1 2182.4,815.6 2182.5,816.1M2184.0,830.9 2184.0,831.6 2185.1,841.5 2185.3,842.9M2187.2,859.0 2187.2,859.0 2188.3,866.6 2189.4,873.4 2190.4,879.7 2191.5,885.8 2192.6,891.8 2193.6,897.9 2194.3,901.9M2197.3,916.6 2197.3,916.8 2198.4,920.7 2199.5,923.5 2200.5,925.2 2201.6,925.4 2202.6,924.3M2206.9,909.3 2206.9,909.3 2208.0,904.0 2209.0,898.5 2210.1,893.0 2211.2,887.7 2212.2,882.6 2213.3,877.6 2214.4,872.2 2215.3,867.2M2217.4,852.5 2217.6,851.5 2218.6,843.2 2218.9,841.1M2220.8,826.4 2221.3,822.5 2222.3,814.8 2223.4,807.7 2224.5,800.9 2225.5,794.4 2226.6,788.3 2227.4,783.9M2230.4,769.5 2230.9,767.8 2231.9,763.8 2233.0,760.4 2233.7,758.4M2243.0,758.2 2243.1,758.3 2244.1,760.7 2245.2,763.4 2246.3,766.5 2247.3,770.0 2248.4,773.6 2249.5,777.5 2250.5,781.5 2251.6,785.5 2252.7,789.6 2253.7,793.6 2254.8,797.5 2255.3,799.4M2260.3,813.2 2260.6,813.8 2261.7,815.3 2262.8,816.4 2263.8,817.0 2264.9,817.2 2266.0,817.1 2267.0,816.7 2268.1,815.9 2269.1,814.7 2269.2,814.6M2273.7,800.6 2273.9,799.3 2275.0,791.9 2276.1,782.4 2277.1,771.4 2278.2,759.7 2278.4,757.9M2279.7,743.2 2279.8,742.7 2280.9,732.3 2280.9,731.6M2282.5,716.7 2283.0,712.3 2284.0,701.7 2285.1,690.1 2286.2,677.1 2286.5,673.3M2287.5,658.3 2287.8,655.1 2288.3,647.2 2288.3,646.7M2289.3,631.7 2289.4,630.9 2290.4,614.2 2291.5,597.5 2292.1,588.2M2293.1,573.2 2293.6,565.8" stroke="#000"/>
<path d="M350.0,673.8 350.0,673.8 351.1,683.2 352.1,696.7 353.2,715.0 353.9,728.3M355.3,759.5 355.3,760.0 356.4,782.6 357.4,803.3 358.1,814.2M360.9,845.3 361.2,847.1 362.2,850.5 363.3,850.3 364.4,847.2 365.4,841.9 366.5,834.9 367.6,827.0 368.6,818.7 369.7,810.3 370.5,803.9M374.0,773.5 374.5,769.3 375.5,758.3 376.6,746.0 377.7,732.7 378.6,720.0M380.8,689.5 380.9,689.1 381.9,675.0 383.0,661.8 384.0,649.8 385.1,639.2 385.5,636.0M393.3,619.8 393.6,621.3 394.7,627.2 395.7,634.5 396.8,643.1 397.9,652.7 398.9,663.2 399.9,673.0M402.4,703.6 402.7,707.9 403.7,725.2 404.8,745.1 405.4,757.1M407.0,787.7 407.4,794.7 408.5,809.6 409.6,821.2 410.6,830.3 411.7,837.4 412.4,841.1M423.1,833.9 423.4,832.2 424.5,824.7 425.5,816.0 426.6,806.2 427.7,795.0 428.7,782.9 428.9,780.6M431.7,750.0 431.9,747.5 433.0,738.0 434.0,729.6 435.1,721.4 436.2,712.2 437.2,700.9 437.6,696.7M439.5,666.1 439.9,658.1 441.0,637.0 442.0,615.7 442.2,612.5M444.0,581.9 444.1,579.9 445.2,567.7 446.3,558.6 447.3,551.2 448.4,545.0 449.5,539.4 450.5,534.1 451.6,528.8M459.6,496.8 459.6,496.8 460.6,494.6 461.7,492.9 462.8,491.5 463.8,490.4 464.9,489.5 466.0,488.6 467.0,487.8 468.1,486.9 469.1,486.0 470.2,485.0 471.3,484.0 472.3,482.9 473.4,481.8 474.5,480.8 475.5,479.9 476.6,479.1 477.7,478.5 478.7,478.0 479.8,477.8 480.9,477.8 481.9,478.2 483.0,478.8 484.0,479.6 485.1,480.7 486.2,482.0 487.2,483.3 488.3,484.7 489.4,486.1 490.4,487.5 491.5,488.9 492.6,490.5 493.6,492.2 494.7,494.2 495.7,496.5 496.5,498.5M503.5,528.4 503.7,529.5 504.8,535.5 505.9,541.6 506.9,547.8 508.0,554.1 509.0,560.6 510.1,567.0 511.2,573.4 512.2,579.8 512.5,581.5M517.7,611.8 518.1,614.0 519.1,620.7 520.2,627.7 521.3,634.9 522.3,642.6 523.4,650.6 524.5,659.0 525.2,665.1M529.2,695.5 529.3,695.7 530.3,703.3 531.4,710.9 532.4,718.6 533.5,726.5 534.6,734.6 535.6,742.7 536.5,748.9M541.3,779.2 541.5,780.3 542.6,785.7 543.6,790.6 544.7,795.1 545.7,799.2 546.8,802.9 547.9,806.2 548.9,809.2 550.0,811.7 551.1,813.9 552.1,815.7 553.2,817.2 554.3,818.3 555.3,819.1 556.4,819.5 557.4,819.5 558.5,819.1 559.6,818.3 560.6,817.0 561.7,815.3 562.8,813.2 562.9,813.0M573.6,784.2 573.9,783.4 575.0,780.9 576.1,778.6 577.1,776.6 578.2,774.8 579.3,773.2 580.3,771.9 581.4,770.9 582.4,770.1 583.5,769.5 584.6,769.3 585.6,769.2 586.7,769.4 587.8,769.8 588.8,770.3 589.9,771.1 591.0,771.9 592.0,772.9 593.1,773.9 594.1,774.9 595.2,775.9 596.3,776.8 597.3,777.5 598.4,778.1 599.5,778.5 600.5,778.6 601.6,778.2 602.7,777.3 603.7,775.7 604.8,773.4 605.9,770.5 606.9,767.0 607.4,765.3M613.8,735.3 613.8,735.3 614.9,729.7 616.0,724.1 617.0,718.5 618.1,713.0 619.1,707.5 620.2,702.0 621.3,696.4 622.3,690.8 623.4,685.2 623.9,682.7M629.6,652.6 629.8,651.7 630.9,646.3 631.9,640.9 633.0,635.5 634.0,630.0 635.1,624.6 636.2,619.3 637.2,614.3 638.3,609.5 639.4,605.2 640.4,601.4 640.8,600.3M652.1,613.1 652.1,613.2 653.2,618.1 654.3,623.0 655.3,627.8 656.4,632.5 657.4,637.1 658.5,641.5 659.6,645.7 660.6,649.7 661.7,653.5 662.8,657.1 663.8,660.4 664.9,663.6 665.4,664.9M681.1,672.7 681.4,671.6 682.4,667.0 683.5,661.5 684.6,655.4 685.6,648.8 686.7,641.7 687.8,634.2 688.8,626.4 689.7,619.9M694.7,589.7 694.7,589.7 695.7,585.3 696.8,581.3 697.9,577.2 698.9,572.7 700.0,567.7 701.1,562.0 702.1,556.1 703.2,550.5 704.3,545.6 705.3,541.6 706.4,538.7 707.4,536.6 708.2,535.6M722.3,558.7 722.3,558.7 723.4,562.2 724.5,565.5 725.5,568.5 726.6,571.3 727.7,573.8 728.7,576.2 729.8,578.3 730.9,580.2 731.9,581.8 733.0,583.3 734.0,584.5 735.1,585.4 736.2,586.2 737.2,586.8 738.3,587.2 739.4,587.5 740.4,587.6 741.5,587.6 742.6,587.4 743.6,587.0 744.7,586.4 745.7,585.7 746.8,584.9 747.9,583.9 748.9,583.0 750.0,582.0 751.1,581.1 752.1,580.3 753.2,579.7 754.3,579.3 755.3,579.0 756.4,579.0 757.4,579.3 758.5,580.0M769.1,610.2 769.1,610.2 770.2,615.9 771.3,621.9 772.3,628.1 773.4,634.2 774.5,640.1 775.5,645.8 776.6,651.3 777.7,657.1 778.7,663.3 778.7,663.5M782.3,694.2 782.4,695.6 783.5,708.6 784.6,722.6 785.6,737.0 786.4,748.2M788.7,779.0 788.8,781.2 789.9,795.4 791.0,808.6 792.0,820.8 793.1,832.1 793.2,833.0M796.4,863.7 796.8,867.7 797.9,877.6 798.9,887.6 800.0,897.7 801.1,907.7 802.1,917.2 802.2,917.6M806.8,948.1 806.9,948.8 808.0,953.7 809.0,957.9 810.1,961.5 811.2,964.5 812.2,966.9 813.3,968.7 814.4,970.0 815.4,970.8 816.5,971.2 817.6,971.3 818.6,970.9 819.7,970.2 820.7,969.0 821.8,967.5 822.9,965.6 823.9,963.3 825.0,960.6 826.1,957.5 827.1,954.1 828.2,950.3 829.0,947.2M835.2,916.7 835.6,913.8 836.7,907.1 837.8,900.0 838.8,892.4 839.9,884.3 841.0,875.8 842.0,866.7 842.5,862.6M845.7,831.5 845.7,831.1 846.8,819.8 847.9,808.1 848.9,795.8 850.0,782.9 850.5,777.2M852.8,746.1 853.2,741.1 854.3,726.5 855.3,711.8 856.4,697.2 856.8,691.6M859.1,660.5 859.6,654.8 860.6,641.0 861.7,627.4 862.8,614.1 863.4,606.1M866.0,575.0 866.5,569.2 867.6,557.0 868.6,545.3 869.7,534.0 870.7,523.3 871.0,520.7M874.3,489.7 874.5,487.8 875.5,477.6 876.6,467.1 877.7,456.4 878.7,445.3 879.7,435.3M882.7,404.3 883.0,401.7 884.0,391.9 885.1,382.8 886.2,374.5 887.2,366.8 888.3,359.9 889.4,353.6 890.0,350.2M902.1,332.2 902.1,332.2 903.2,335.2 904.3,338.9 905.3,343.3 906.4,348.1 907.4,353.5 908.5,359.2 909.6,365.2 910.6,371.4 911.7,377.9 912.8,384.7 912.8,385.1M917.1,415.7 917.6,419.2 918.6,428.0 919.7,437.1 920.7,446.5 921.8,456.2 922.9,466.1 923.2,469.5M926.4,500.2 926.6,502.2 927.7,512.7 928.7,523.1 929.8,533.6 930.9,544.4 931.8,554.1M934.6,584.9 934.6,585.0 935.6,597.9 936.7,611.3 937.8,625.3 938.8,638.8M941.0,669.6 941.5,676.2 942.6,690.8 943.6,705.2 944.7,719.3 945.0,723.6M947.5,754.4 947.9,758.3 948.9,770.0 950.0,781.1 951.1,791.6 952.1,801.6 952.9,808.3M956.9,838.9 956.9,839.0 958.0,845.5 959.0,851.3 960.1,856.8 961.2,862.0 962.2,867.0 963.3,871.9 964.4,876.4 965.4,880.5 966.5,884.1 967.6,887.0 968.6,889.2 969.7,890.6 970.2,890.9M980.8,862.2 980.9,862.0 981.9,858.1 983.0,854.3 984.0,850.2 985.1,845.5 986.2,840.0 987.2,833.8 988.3,827.0 989.4,820.2 990.4,813.4 991.4,807.9M997.4,776.9 997.9,775.0 998.9,770.6 1000.0,766.5 1001.1,762.9 1002.1,759.7 1003.2,757.1 1004.3,755.0 1005.3,753.4 1006.4,752.4 1007.4,752.0 1008.5,752.1 1009.6,752.8 1010.6,753.9 1011.7,755.4 1012.8,757.3 1013.8,759.7 1014.9,762.4 1016.0,765.5 1017.0,768.8 1018.1,772.4 1018.8,774.8M1027.1,803.6 1027.1,803.6 1028.2,806.3 1029.3,808.6 1030.3,810.4 1031.4,811.7 1032.4,812.6 1033.5,813.0 1034.6,813.1 1035.6,812.8 1036.7,812.3 1037.8,811.4 1038.8,810.1 1039.9,808.2 1041.0,805.6 1042.0,802.2 1043.1,797.5 1044.1,791.0 1045.2,782.6 1046.1,774.3M1049.1,743.0 1049.5,739.8 1050.5,730.0 1051.6,720.5 1052.7,711.0 1053.7,700.9 1054.8,689.8 1054.9,688.3M1057.4,657.0 1057.4,656.8 1058.5,641.9 1059.6,626.6 1060.6,611.2 1061.3,602.2M1063.6,570.9 1063.8,568.2 1064.9,555.9 1066.0,544.9 1067.0,535.0 1068.1,526.0 1069.1,517.9 1069.4,516.2M1074.7,485.2 1075.0,484.0 1076.1,479.5 1077.1,475.5 1078.2,472.0 1079.3,469.1 1080.3,466.6 1081.4,464.7 1082.4,463.2 1083.5,462.1 1084.6,461.5 1085.6,461.5 1086.7,462.2 1087.8,463.7 1088.8,466.0 1089.9,469.0 1091.0,472.4 1092.0,475.9 1093.1,479.2 1094.1,482.3 1095.0,484.6M1105.9,511.1 1105.9,511.1 1106.9,513.5 1108.0,515.8 1109.0,518.2 1110.1,520.6 1111.2,523.2 1112.2,525.8 1113.3,528.5 1114.4,531.4 1115.4,534.2 1116.5,537.1 1117.6,539.9 1118.6,542.6 1119.7,545.3 1120.7,548.1 1121.8,551.0 1122.9,554.0 1123.9,557.4 1124.8,560.3M1130.3,589.9 1130.3,589.9 1131.4,597.8 1132.4,606.0 1133.5,614.0 1134.6,621.6 1135.6,629.0 1136.7,636.2 1137.8,643.4 1138.0,644.7M1142.3,676.0 1142.6,678.0 1143.6,686.3 1144.7,695.1 1145.7,704.8 1146.8,715.7 1147.9,727.9 1148.1,731.1M1151.1,762.6 1151.1,762.6 1152.1,770.8 1153.2,777.5 1154.3,783.2 1155.3,788.3 1156.4,792.9 1157.4,797.1 1158.5,801.2 1159.6,805.2 1160.6,809.2 1161.7,813.1 1162.8,816.8 1162.8,816.9M1176.1,813.4 1176.6,811.7 1177.7,807.7 1178.7,803.6 1179.8,799.6 1180.9,795.6 1181.9,791.7 1183.0,788.1 1184.0,784.8 1185.1,781.8 1186.2,779.1 1187.2,776.8 1188.3,774.8 1189.4,773.1 1190.4,771.7 1191.5,770.6 1192.6,769.7 1193.6,769.0 1194.7,768.5 1195.7,768.2 1196.8,768.0 1197.9,768.0 1198.9,768.2 1200.0,768.7 1200.4,768.9M1221.8,769.3 1221.8,769.3 1222.9,766.5 1223.9,763.5 1225.0,760.2 1226.1,756.8 1227.1,753.1 1228.2,749.2 1229.3,745.1 1230.3,740.7 1231.4,735.9 1232.4,730.8 1233.5,725.3 1234.6,719.2 1235.0,716.5M1239.6,685.7 1239.9,683.8 1241.0,677.9 1242.0,672.7 1243.1,667.9 1244.1,663.2 1245.2,658.6 1246.3,653.7 1247.3,648.4 1248.4,642.8 1249.5,636.8 1250.2,632.3M1256.2,601.8 1256.4,601.0 1257.4,597.9 1258.5,595.9 1259.6,595.0 1260.6,595.2 1261.7,596.2 1262.8,598.0 1263.8,600.3 1264.9,603.2 1266.0,606.6 1267.0,610.3 1268.1,614.4 1269.1,618.7 1270.2,623.1 1271.3,627.7 1272.3,632.2 1273.4,636.7 1273.8,638.5M1282.3,668.4 1282.4,668.9 1283.5,671.5 1284.6,673.8 1285.6,675.8 1286.7,677.5 1287.8,678.9 1288.8,679.9 1289.9,680.7 1291.0,681.1 1292.0,681.1 1293.1,680.5 1294.1,679.0 1295.2,676.4 1296.3,672.9 1297.3,668.5 1298.4,663.2 1299.5,657.3 1300.5,650.8 1301.4,645.3M1305.7,614.5 1305.9,613.2 1306.9,606.0 1308.0,599.4 1309.0,593.7 1310.1,588.8 1311.2,584.5 1312.2,580.5 1313.3,576.3 1314.4,571.8 1315.4,566.6 1316.4,561.2M1327.2,533.7 1327.7,533.9 1328.7,534.6 1329.8,536.0 1330.9,538.0 1331.9,540.6 1333.0,543.6 1334.0,547.0 1335.1,550.5 1336.2,554.0 1337.2,557.6 1338.3,561.2 1339.4,564.5 1340.4,567.6 1341.5,570.5 1342.6,573.1 1343.6,575.5 1344.7,577.7 1345.7,579.6 1346.8,581.3 1347.9,582.8 1348.2,583.3M1374.6,580.8 1375.0,581.3 1376.1,582.8 1377.1,584.7 1378.2,587.0 1379.3,589.8 1380.3,593.0 1381.4,596.7 1382.4,601.0 1383.5,605.9 1384.6,611.3 1385.6,617.1 1386.7,623.2 1387.8,629.3 1388.4,633.1M1394.0,663.7 1394.1,664.7 1395.2,672.1 1396.3,681.1 1397.3,692.0 1398.4,704.6 1399.4,717.9M1401.7,748.9 1402.1,754.6 1403.2,769.5 1404.3,784.1 1405.3,798.1 1405.7,803.3M1408.5,834.3 1408.5,834.3 1409.6,844.8 1410.6,854.9 1411.7,864.8 1412.8,874.6 1413.8,884.6 1413.9,885.3M1417.0,914.4 1417.0,914.4 1418.1,923.4 1419.1,931.3 1420.2,938.3 1421.3,944.4 1422.3,949.8 1423.4,954.6 1424.5,958.7 1425.5,962.1 1426.6,965.0 1427.7,967.3 1428.7,969.0 1429.7,970.1M1444.7,945.2 1444.7,945.2 1445.7,940.6 1446.8,935.7 1447.9,930.4 1448.9,924.8 1450.0,918.8 1451.1,912.5 1452.1,905.7 1453.2,898.5 1454.1,891.8M1457.9,861.0 1458.0,860.0 1459.0,850.1 1460.1,839.7 1461.2,828.9 1462.2,817.5 1463.2,807.0M1465.8,776.1 1466.0,773.5 1467.0,759.7 1468.1,745.4 1469.1,730.9 1469.8,722.0M1472.0,691.1 1472.3,687.1 1473.4,672.9 1474.5,658.9 1475.5,645.1 1476.2,637.0M1478.6,606.1 1478.7,604.8 1479.8,591.8 1480.9,579.1 1481.9,566.7 1483.0,554.6 1483.2,552.1M1486.2,521.2 1486.2,521.2 1487.2,510.9 1488.3,500.9 1489.4,490.8 1490.4,480.7 1491.5,470.3 1491.8,467.3M1494.8,436.5 1495.2,431.9 1496.3,420.8 1497.3,410.0 1498.4,399.7 1499.5,390.1 1500.3,382.6M1504.9,352.0 1505.3,349.6 1506.4,344.4 1507.4,339.9 1508.5,336.1 1509.6,333.0 1510.6,330.5 1511.7,328.8 1512.8,327.8 1513.8,327.5 1514.9,328.0 1516.0,329.3 1517.0,331.4 1518.1,334.2 1519.1,337.8 1520.2,341.9 1521.3,346.6 1522.3,351.8 1522.5,352.4M1527.7,382.6 1527.7,382.6 1528.7,389.6 1529.8,396.8 1530.9,404.4 1531.9,412.5 1533.0,421.0 1534.0,429.8 1534.8,436.6M1538.2,467.5 1538.3,468.2 1539.4,478.3 1540.4,488.7 1541.5,499.1 1542.6,509.5 1543.6,520.0 1543.8,521.6M1546.9,552.5 1547.3,557.6 1548.4,569.2 1549.5,581.2 1550.5,593.9 1551.6,606.8M1553.9,637.8 1554.3,642.5 1555.3,657.1 1556.4,671.8 1557.4,686.4 1557.9,692.1M1560.2,723.0 1560.6,728.8 1561.7,742.0 1562.8,754.6 1563.8,766.6 1564.8,777.3M1568.1,808.2 1568.1,808.2 1569.1,817.2 1570.2,825.5 1571.3,833.3 1572.3,840.3 1573.4,846.7 1574.5,852.4 1575.5,857.8 1576.2,861.0M1584.5,890.1 1584.6,890.3 1585.6,891.0 1586.7,890.8 1587.8,889.6 1588.8,887.5 1589.9,884.7 1591.0,881.4 1592.0,877.6 1593.1,873.5 1594.1,869.3 1595.2,865.2 1596.3,861.2 1597.3,857.3 1598.4,853.5 1599.5,849.2 1600.5,844.4 1601.0,842.2M1605.9,812.1 1605.9,812.1 1606.9,805.8 1608.0,799.9 1609.0,794.2 1610.1,788.8 1611.2,783.7 1612.2,778.7 1613.3,774.1 1614.4,769.7 1615.4,765.8 1616.5,762.2 1617.6,759.2 1617.9,758.4M1633.1,771.8 1633.5,773.1 1634.6,776.9 1635.6,780.8 1636.7,784.7 1637.8,788.6 1638.8,792.4 1639.9,796.1 1641.0,799.5 1642.0,802.7 1643.1,805.5 1644.1,807.9 1645.2,809.9 1646.3,811.4 1647.3,812.4 1648.4,812.9 1649.5,813.1 1650.5,812.9 1651.6,812.5 1652.7,811.8 1653.7,810.6 1654.8,808.8 1655.8,806.7M1661.2,775.8 1661.2,775.8 1662.2,764.9 1663.3,753.7 1664.4,742.9 1665.4,732.8 1666.5,723.3 1666.6,722.0M1669.9,691.3 1670.2,687.4 1671.3,674.9 1672.3,661.1 1673.4,646.5 1674.0,637.4M1676.2,606.6 1676.6,600.6 1677.7,585.9 1678.7,572.1 1679.8,559.5 1680.4,552.7M1683.8,522.1 1684.0,520.3 1685.1,512.7 1686.2,505.7 1687.2,499.3 1688.3,493.3 1689.4,487.9 1690.4,483.0 1691.5,478.6 1692.6,474.8 1693.6,471.4 1694.4,469.2M1708.5,479.8 1708.5,479.8 1709.6,482.9 1710.6,485.8 1711.7,488.7 1712.8,491.5 1713.8,494.2 1714.9,496.9 1716.0,499.4 1717.0,502.0 1718.1,504.4 1719.1,506.8 1720.2,509.2 1721.3,511.6 1722.3,513.9 1723.4,516.3 1724.5,518.7 1725.5,521.1 1726.6,523.7 1727.7,526.3 1728.7,529.1 1728.8,529.4M1739.4,558.1 1739.4,558.1 1740.4,561.8 1741.5,566.1 1742.6,571.1 1743.6,577.0 1744.7,583.8 1745.7,591.4 1746.8,599.5 1747.9,607.6 1748.6,613.2M1753.2,644.9 1753.2,644.9 1754.3,652.2 1755.3,659.7 1756.4,667.5 1757.4,675.5 1758.5,683.8 1759.6,692.4 1760.2,698.2M1763.2,728.7 1763.3,730.4 1764.4,743.1 1765.4,754.7 1766.5,764.4 1767.6,772.2 1768.6,778.7 1769.3,782.1M1776.6,811.9 1776.6,811.9 1777.7,815.7 1778.7,819.3 1779.8,822.4 1780.9,825.0 1781.9,827.1 1783.0,828.4 1784.0,829.0 1785.1,828.8 1786.2,827.7 1787.2,825.8 1788.3,823.3 1789.4,820.2 1790.4,816.7 1791.5,812.9 1792.6,808.9 1793.6,804.8 1794.7,800.8 1795.7,796.8 1796.8,792.9 1797.0,792.3M1815.4,768.8 1815.4,768.8 1816.5,769.5 1817.6,770.4 1818.6,771.4 1819.7,772.6 1820.7,773.8 1821.8,775.0 1822.9,776.2 1823.9,777.3 1825.0,778.3 1826.1,779.1 1827.1,779.6 1828.2,780.0 1829.3,780.0 1830.3,779.7 1831.4,779.0 1832.4,777.9 1833.5,776.5 1834.6,774.7 1835.6,772.5 1836.7,770.1 1837.8,767.3 1838.8,764.4 1839.9,761.2 1841.0,757.8 1842.0,754.2 1843.1,750.4 1843.7,748.1M1850.0,717.9 1850.0,717.9 1851.1,711.1 1852.1,703.7 1853.2,696.2 1854.3,689.1 1855.3,682.6 1856.4,676.9 1857.4,671.7 1858.5,666.9 1858.7,666.0M1864.7,636.6 1864.9,635.6 1866.0,629.4 1867.0,623.2 1868.1,617.2 1869.1,611.6 1870.2,606.5 1871.3,602.1 1872.3,598.7 1873.4,596.3 1874.5,595.1 1875.5,595.0 1876.6,595.8 1877.7,597.4 1878.7,599.5 1879.8,602.3M1888.3,635.4 1888.3,635.4 1889.4,639.8 1890.4,644.1 1891.5,648.3 1892.6,652.4 1893.6,656.3 1894.7,660.0 1895.7,663.4 1896.8,666.6 1897.9,669.4 1898.9,672.0 1900.0,674.3 1901.1,676.2 1902.1,677.8 1903.2,679.1 1904.3,680.1 1905.3,680.8 1906.4,681.1 1907.4,681.1 1908.5,680.3 1908.7,680.0M1915.8,650.7 1916.0,649.5 1917.0,642.4 1918.1,634.9 1919.1,627.2 1920.2,619.4 1921.3,611.8 1922.3,604.7 1923.4,598.2 1923.4,598.2M1930.2,568.6 1930.3,568.2 1931.4,562.6 1932.4,556.8 1933.5,551.1 1934.6,546.0 1935.6,542.0 1936.7,538.9 1937.8,536.8 1938.8,535.4 1939.9,534.4 1941.0,533.9 1942.0,533.7 1943.1,534.0 1944.1,534.8 1945.2,536.3 1946.3,538.5 1947.3,541.2 1948.4,544.3 1949.0,546.1M1958.5,574.8 1958.5,574.8 1959.6,577.0 1960.6,579.0 1961.7,580.8 1962.8,582.4 1963.8,583.8 1964.9,584.9 1966.0,585.8 1967.0,586.5 1968.1,587.0 1969.1,587.3 1970.2,587.5 1971.3,587.6 1972.3,587.5 1973.4,587.3 1974.5,586.8 1975.5,586.2 1976.6,585.4 1977.7,584.5 1978.7,583.5 1979.8,582.6 1980.9,581.6 1981.9,580.8 1983.0,580.1 1984.0,579.5 1985.1,579.1 1986.2,579.0 1987.2,579.1 1988.3,579.5 1989.4,580.3 1990.4,581.5 1991.5,583.1 1992.6,585.1 1993.6,587.5 1994.7,590.4 1995.7,593.7 1996.3,595.5M2002.7,627.5 2002.7,627.5 2003.7,633.6 2004.8,639.5 2005.9,645.2 2006.9,650.8 2008.0,656.5 2009.0,662.7 2010.1,669.8 2011.2,678.3 2011.6,682.2M2014.3,713.8 2014.4,714.1 2015.4,728.3 2016.5,742.8 2017.6,757.6 2018.4,769.2M2020.7,800.8 2020.7,800.8 2021.8,813.6 2022.9,825.4 2023.9,836.4 2025.0,846.8 2025.6,852.2M2028.7,881.6 2028.7,881.6 2029.8,891.6 2030.9,901.7 2031.9,911.6 2033.0,920.8 2034.0,929.1 2035.1,936.2M2042.6,966.6 2042.6,966.6 2043.6,968.5 2044.7,969.9 2045.7,970.8 2046.8,971.2 2047.9,971.3 2048.9,971.0 2050.0,970.3 2051.1,969.2 2052.1,967.7 2053.2,965.8 2054.3,963.6 2055.3,960.9 2056.4,957.9 2057.4,954.5 2058.5,950.7 2059.6,946.5 2060.6,942.0 2061.7,937.2 2062.8,932.0 2063.8,926.5 2064.0,925.5M2069.1,893.2 2069.1,893.2 2070.2,885.2 2071.3,876.6 2072.3,867.6 2073.4,858.1 2074.5,848.1 2075.3,839.8M2078.2,809.3 2078.2,809.3 2079.3,797.0 2080.3,784.2 2081.4,770.8 2082.4,757.5M2084.6,728.0 2084.6,728.0 2085.6,713.3 2086.7,698.7 2087.8,684.3 2088.6,673.1M2091.0,641.8 2091.5,635.6 2092.6,622.1 2093.6,608.8 2094.7,595.7 2095.4,587.0M2098.1,555.7 2098.4,552.3 2099.5,540.7 2100.5,529.7 2101.6,519.1 2102.7,508.9 2103.5,500.9M2106.8,469.7 2106.9,468.2 2108.0,457.5 2109.0,446.4 2110.1,435.3 2111.2,424.1 2112.1,414.9M2115.4,383.7 2115.4,383.7 2116.5,375.3 2117.6,367.6 2118.6,360.5 2119.7,354.2 2120.7,348.5 2121.8,343.4 2122.9,339.1 2123.9,335.4 2125.0,332.4 2125.4,331.5M2137.2,350.2 2137.2,350.2 2138.3,355.7 2139.4,361.5 2140.4,367.6 2141.5,374.0 2142.6,380.6 2143.6,387.4 2144.7,394.6 2145.7,402.1 2146.1,404.8M2150.0,436.2 2150.0,436.2 2151.1,445.6 2152.1,455.2 2153.2,465.1 2154.3,475.3 2155.3,485.6 2155.8,489.9M2158.9,520.6 2159.0,522.1 2160.1,532.6 2161.2,543.3 2162.2,554.3 2163.3,565.7 2164.1,574.4M2166.6,605.2 2167.0,609.9 2168.1,623.8 2169.1,638.1 2170.2,652.7 2170.7,659.1M2172.9,689.9 2173.4,696.6 2174.5,710.9 2175.5,724.7 2176.6,738.1 2177.1,743.8M2179.8,774.5 2179.8,774.5 2180.9,785.4 2181.9,795.7 2183.0,805.4 2184.0,814.6 2185.1,823.1 2185.8,828.4M2191.0,858.8 2191.0,858.8 2192.0,864.0 2193.1,869.0 2194.1,873.7 2195.2,878.1 2196.3,882.0 2197.3,885.3 2198.4,888.0 2199.5,889.9 2200.5,890.9 2201.6,890.9 2202.7,890.0 2203.7,888.2 2204.8,885.6 2205.9,882.4 2206.9,878.7 2208.0,874.7 2208.4,873.3M2216.0,843.4 2216.0,843.4 2217.0,837.6 2218.1,831.1 2219.1,824.3 2220.2,817.4 2221.3,810.9 2222.3,804.6 2223.4,798.7 2224.5,793.1 2224.9,791.0M2231.9,761.6 2231.9,761.6 2233.0,758.6 2234.0,756.2 2235.1,754.3 2236.2,752.9 2237.2,752.2 2238.3,752.0 2239.4,752.3 2240.4,753.1 2241.5,754.4 2242.6,756.1 2243.6,758.2 2244.7,760.8 2245.7,763.6 2246.8,766.8 2247.9,770.2 2248.9,773.9 2250.0,777.7 2251.1,781.6 2252.1,785.5 2253.2,789.4 2253.5,790.4M2268.7,810.9 2269.1,810.3 2270.2,808.4 2271.3,805.9 2272.3,802.6 2273.4,798.0 2274.5,791.8 2275.5,783.6 2276.6,773.6 2277.7,762.6 2278.1,757.9M2281.3,727.0 2281.4,726.1 2282.4,716.7 2283.5,707.0 2284.6,696.6 2285.6,685.0 2286.6,673.0M2288.9,642.1 2289.4,635.9 2290.4,620.5 2291.5,605.1 2292.6,590.3 2292.7,587.9" stroke="#f00"/>
<path d="M350.0,673.5 351.1,686.9 352.1,704.3 353.2,725.0 354.3,744.8 355.3,760.9 356.4,771.7 357.4,777.4 358.5,779.0 359.6,777.8 360.6,774.4 361.7,769.3 362.8,762.6 363.8,754.6 364.9,745.5 366.0,735.6 367.0,725.0 368.1,714.1 369.1,703.0 370.2,692.0 371.3,681.4 372.3,671.2 373.4,661.7 374.5,653.0 375.5,645.2 376.6,638.5 377.7,632.9 378.7,628.4 379.8,625.2 380.9,623.2 381.9,622.5 383.0,622.9 384.0,624.7 385.1,627.6 386.2,631.6 387.2,636.6 388.3,642.4 389.4,649.0 390.4,656.0 391.5,663.5 392.6,671.2 393.6,679.0 394.7,686.8 395.7,694.4 396.8,701.8 397.9,708.9 398.9,715.6 400.0,721.8 401.1,727.5 402.1,732.5 403.2,737.0 404.3,740.7 405.3,743.8 406.4,746.2 407.4,748.0 408.5,749.1 409.6,749.6 410.6,749.5 411.7,749.0 412.8,748.1 413.8,746.7 414.9,744.8 416.0,742.4 417.0,739.5 418.1,736.1 419.1,732.1 420.2,727.4 421.3,722.1 422.3,716.4 423.4,710.6 424.5,704.9 425.5,699.4 426.6,694.2 427.7,689.1 428.7,684.0 429.8,678.9 430.9,673.7 431.9,668.5 433.0,663.4 434.0,658.5 435.1,653.8 436.2,649.4 437.2,645.2 438.3,641.3 439.4,637.5 440.4,633.8 441.5,630.2 442.6,626.7 443.6,623.1 444.7,619.7 445.7,616.3 446.8,613.1 447.9,609.9 448.9,607.0 450.0,604.2 451.1,601.5 452.1,599.1 453.2,596.8 454.3,594.7 455.3,592.7 456.4,590.9 457.4,589.3 458.5,587.9 459.6,586.6 460.6,585.6 461.7,584.7 462.8,583.9 463.8,583.4 464.9,583.0 466.0,582.8 467.0,582.8 468.1,583.0 469.1,583.3 470.2,583.8 471.3,584.5 472.3,585.4 473.4,586.3 474.5,587.5 475.5,588.7 476.6,590.1 477.7,591.6 478.7,593.3 479.8,595.0 480.9,596.8 481.9,598.6 483.0,600.6 484.0,602.6 485.1,604.7 486.2,606.8 487.2,609.0 488.3,611.2 489.4,613.4 490.4,615.7 491.5,617.9 492.6,620.2 493.6,622.6 494.7,624.9 495.7,627.2 496.8,629.5 497.9,631.8 498.9,634.1 500.0,636.3 501.1,638.6 502.1,640.9 503.2,643.1 504.3,645.4 505.3,647.8 506.4,650.2 507.4,652.7 508.5,655.1 509.6,657.6 510.6,660.1 511.7,662.6 512.8,665.2 513.8,667.8 514.9,670.4 516.0,673.2 517.0,676.1 518.1,679.1 519.1,682.2 520.2,685.5 521.3,689.0 522.3,692.5 523.4,696.0 524.5,699.6 525.5,703.2 526.6,706.7 527.7,710.3 528.7,713.9 529.8,717.4 530.9,720.8 531.9,723.9 533.0,726.8 534.0,729.4 535.1,731.7 536.2,733.6 537.2,735.4 538.3,736.8 539.4,738.1 540.4,739.2 541.5,740.1 542.6,740.9 543.6,741.5 544.7,741.9 545.7,742.2 546.8,742.3 547.9,742.3 548.9,742.1 550.0,741.7 551.1,741.1 552.1,740.2 553.2,739.2 554.3,737.9 555.3,736.5 556.4,734.9 557.4,733.2 558.5,731.4 559.6,729.4 560.6,727.4 561.7,725.4 562.8,723.3 563.8,721.2 564.9,719.1 566.0,717.1 567.0,715.1 568.1,713.3 569.1,711.5 570.2,709.9 571.3,708.4 572.3,707.1 573.4,706.0 574.5,705.1 575.5,704.3 576.6,703.8 577.7,703.5 578.7,703.3 579.8,703.4 580.9,703.5 581.9,703.7 583.0,704.1 584.0,704.5 585.1,704.9 586.2,705.5 587.2,706.0 588.3,706.6 589.4,707.1 590.4,707.7 591.5,708.2 592.6,708.6 593.6,709.0 594.7,709.3 595.7,709.5 596.8,709.6 597.9,709.6 598.9,709.3 600.0,708.9 601.1,708.3 602.1,707.4 603.2,706.4 604.3,705.1 605.3,703.6 606.4,701.9 607.4,700.0 608.5,697.9 609.6,695.6 610.6,693.2 611.7,690.6 612.8,687.9 613.8,685.0 614.9,682.1 616.0,679.1 617.0,676.0 618.1,672.9 619.1,669.8 620.2,666.6 621.3,663.5 622.3,660.4 623.4,657.4 624.5,654.4 625.5,651.6 626.6,648.9 627.7,646.3 628.7,643.9 629.8,641.7 630.9,639.7 631.9,637.9 633.0,636.3 634.0,635.0 635.1,634.0 636.2,633.2 637.2,632.7 638.3,632.5 639.4,632.6 640.4,633.0 641.5,633.7 642.6,634.7 643.6,635.9 644.7,637.4 645.7,639.2 646.8,641.2 647.9,643.3 648.9,645.6 650.0,648.0 651.1,650.6 652.1,653.2 653.2,655.8 654.3,658.5 655.3,661.1 656.4,663.7 657.4,666.2 658.5,668.7 659.6,671.0 660.6,673.2 661.7,675.2 662.8,677.0 663.8,678.6 664.9,680.0 666.0,681.2 667.0,682.1 668.1,682.9 669.1,683.3 670.2,683.5 671.3,683.5 672.3,683.1 673.4,682.5 674.5,681.5 675.5,680.3 676.6,678.7 677.7,677.0 678.7,674.9 679.8,672.7 680.9,670.3 681.9,667.7 683.0,664.9 684.0,662.0 685.1,659.1 686.2,656.0 687.2,652.9 688.3,649.8 689.4,646.7 690.4,643.7 691.5,640.7 692.6,637.8 693.6,634.9 694.7,632.2 695.7,629.7 696.8,627.2 697.9,625.0 698.9,623.0 700.0,621.1 701.1,619.5 702.1,618.1 703.2,616.9 704.3,616.0 705.3,615.3 706.4,614.8 707.4,614.6 708.5,614.6 709.6,614.9 710.6,615.4 711.7,616.2 712.8,617.2 713.8,618.3 714.9,619.7 716.0,621.1 717.0,622.7 718.1,624.4 719.1,626.1 720.2,627.8 721.3,629.5 722.3,631.2 723.4,632.9 724.5,634.5 725.5,636.1 726.6,637.6 727.7,639.0 728.7,640.3 729.8,641.5 730.9,642.5 731.9,643.5 733.0,644.3 734.0,644.9 735.1,645.5 736.2,645.9 737.2,646.2 738.3,646.4 739.4,646.5 740.4,646.4 741.5,646.4 742.6,646.2 743.6,646.0 744.7,645.8 745.7,645.6 746.8,645.3 747.9,645.1 748.9,644.9 750.0,644.7 751.1,644.5 752.1,644.4 753.2,644.4 754.3,644.4 755.3,644.6 756.4,644.9 757.4,645.4 758.5,646.1 759.6,647.0 760.6,648.0 761.7,649.2 762.8,650.6 763.8,652.2 764.9,654.0 766.0,655.9 767.0,658.0 768.1,660.3 769.1,662.8 770.2,665.5 771.3,668.3 772.3,671.2 773.4,674.4 774.5,677.6 775.5,681.0 776.6,684.6 777.7,688.2 778.7,692.0 779.8,695.8 780.9,699.8 781.9,703.9 783.0,708.1 784.0,712.3 785.1,716.7 786.2,721.1 787.2,725.7 788.3,730.2 789.4,734.9 790.4,739.6 791.5,744.2 792.6,748.9 793.6,753.5 794.7,758.1 795.7,762.5 796.8,766.9 797.9,771.0 798.9,775.0 800.0,778.8 801.1,782.4 802.1,785.6 803.2,788.6 804.3,791.2 805.3,793.5 806.4,795.3 807.4,796.8 808.5,797.8 809.6,798.4 810.6,798.6 811.7,798.4 812.8,798.1 813.8,797.5 814.9,796.6 816.0,795.6 817.0,794.4 818.1,793.0 819.1,791.5 820.2,789.7 821.3,787.8 822.3,785.8 823.4,783.6 824.5,781.2 825.5,778.7 826.6,776.1 827.7,773.3 828.7,770.3 829.8,767.1 830.9,763.7 831.9,760.2 833.0,756.5 834.0,752.6 835.1,748.6 836.2,744.5 837.2,740.2 838.3,735.8 839.4,731.2 840.4,726.6 841.5,721.8 842.6,716.8 843.6,711.8 844.7,706.7 845.7,701.6 846.8,696.4 847.9,691.2 848.9,686.0 850.0,680.9 851.1,675.8 852.1,670.7 853.2,665.5 854.3,660.3 855.3,654.9 856.4,649.3 857.4,643.5 858.5,637.6 859.6,631.6 860.6,625.5 861.7,619.5 862.8,613.6 863.8,607.8 864.9,602.1 866.0,596.5 867.0,591.1 868.1,585.8 869.1,580.7 870.2,575.8 871.3,571.1 872.3,566.6 873.4,562.3 874.5,558.2 875.5,554.4 876.6,550.8 877.7,547.5 878.7,544.4 879.8,541.6 880.9,539.0 881.9,536.6 883.0,534.4 884.0,532.4 885.1,530.6 886.2,529.2 887.2,528.0 888.3,527.1 889.4,526.5 890.4,526.3 891.5,526.3 892.6,526.7 893.6,527.5 894.7,528.5 895.7,529.9 896.8,531.5 897.9,533.5 898.9,535.7 900.0,538.2 901.1,540.9 902.1,543.8 903.2,547.0 904.3,550.4 905.3,554.0 906.4,557.7 907.4,561.6 908.5,565.7 909.6,569.9 910.6,574.2 911.7,578.6 912.8,583.1 913.8,587.7 914.9,592.4 916.0,597.0 917.0,601.7 918.1,606.4 919.1,611.1 920.2,615.7 921.3,620.4 922.3,625.0 923.4,629.6 924.5,634.2 925.5,638.9 926.6,643.5 927.7,648.2 928.7,652.9 929.8,657.6 930.9,662.4 931.9,667.3 933.0,672.2 934.0,677.1 935.1,682.0 936.2,686.8 937.2,691.6 938.3,696.4 939.4,701.1 940.4,705.8 941.5,710.4 942.6,715.0 943.6,719.5 944.7,724.0 945.7,728.5 946.8,732.9 947.9,737.2 948.9,741.5 950.0,745.6 951.1,749.6 952.1,753.4 953.2,757.0 954.3,760.4 955.3,763.5 956.4,766.2 957.4,768.7 958.5,770.7 959.6,772.4 960.6,773.6 961.7,774.3 962.8,774.6 963.8,774.4 964.9,773.9 966.0,773.1 967.0,771.9 968.1,770.4 969.1,768.6 970.2,766.5 971.3,764.1 972.3,761.5 973.4,758.7 974.5,755.7 975.5,752.5 976.6,749.2 977.7,745.8 978.7,742.2 979.8,738.7 980.9,735.1 981.9,731.4 983.0,727.9 984.0,724.3 985.1,720.8 986.2,717.4 987.2,714.2 988.3,711.0 989.4,708.1 990.4,705.3 991.5,702.7 992.6,700.3 993.6,698.1 994.7,696.1 995.7,694.4 996.8,693.0 997.9,691.8 998.9,690.8 1000.0,690.1 1001.1,689.7 1002.1,689.6 1003.2,689.7 1004.3,690.1 1005.3,690.8 1006.4,691.7 1007.4,692.9 1008.5,694.3 1009.6,695.9 1010.6,697.6 1011.7,699.5 1012.8,701.5 1013.8,703.6 1014.9,705.8 1016.0,707.9 1017.0,710.1 1018.1,712.2 1019.1,714.2 1020.2,716.1 1021.3,717.9 1022.3,719.5 1023.4,721.0 1024.5,722.3 1025.5,723.3 1026.6,724.2 1027.7,724.8 1028.7,725.2 1029.8,725.2 1030.9,724.9 1031.9,724.2 1033.0,723.0 1034.0,721.3 1035.1,719.2 1036.2,716.6 1037.2,713.7 1038.3,710.5 1039.4,706.9 1040.4,703.1 1041.5,699.0 1042.6,694.8 1043.6,690.3 1044.7,685.7 1045.7,681.0 1046.8,676.3 1047.9,671.6 1048.9,667.0 1050.0,662.4 1051.1,657.8 1052.1,653.1 1053.2,648.3 1054.3,643.2 1055.3,637.9 1056.4,632.3 1057.4,626.8 1058.5,621.4 1059.6,616.4 1060.6,612.0 1061.7,608.1 1062.8,604.7 1063.8,601.7 1064.9,598.8 1066.0,596.0 1067.0,593.3 1068.1,590.6 1069.1,588.1 1070.2,585.7 1071.3,583.6 1072.3,581.7 1073.4,580.1 1074.5,578.8 1075.5,577.8 1076.6,577.3 1077.7,577.1 1078.7,577.2 1079.8,577.7 1080.9,578.4 1081.9,579.4 1083.0,580.6 1084.0,581.9 1085.1,583.4 1086.2,585.1 1087.2,586.7 1088.3,588.5 1089.4,590.2 1090.4,592.0 1091.5,593.7 1092.6,595.4 1093.6,597.0 1094.7,598.6 1095.7,600.1 1096.8,601.7 1097.9,603.2 1098.9,604.7 1100.0,606.2 1101.1,607.7 1102.1,609.2 1103.2,610.7 1104.3,612.2 1105.3,613.6 1106.4,615.1 1107.4,616.5 1108.5,617.9 1109.6,619.3 1110.6,620.8 1111.7,622.4 1112.8,624.0 1113.8,625.7 1114.9,627.6 1116.0,629.5 1117.0,631.4 1118.1,633.5 1119.1,635.7 1120.2,637.9 1121.3,640.2 1122.3,642.7 1123.4,645.3 1124.5,648.0 1125.5,650.8 1126.6,653.8 1127.7,656.8 1128.7,659.9 1129.8,663.1 1130.9,666.3 1131.9,669.7 1133.0,673.1 1134.0,676.6 1135.1,680.2 1136.2,683.9 1137.2,687.6 1138.3,691.3 1139.4,695.1 1140.4,698.8 1141.5,702.4 1142.6,706.0 1143.6,709.4 1144.7,712.8 1145.7,716.1 1146.8,719.3 1147.9,722.3 1148.9,725.2 1150.0,727.8 1151.1,730.2 1152.1,732.4 1153.2,734.4 1154.3,736.1 1155.3,737.7 1156.4,739.0 1157.4,740.0 1158.5,740.9 1159.6,741.4 1160.6,741.8 1161.7,741.9 1162.8,741.8 1163.8,741.4 1164.9,740.9 1166.0,740.1 1167.0,739.2 1168.1,738.1 1169.1,736.8 1170.2,735.3 1171.3,733.8 1172.3,732.1 1173.4,730.3 1174.5,728.5 1175.5,726.6 1176.6,724.6 1177.7,722.7 1178.7,720.7 1179.8,718.8 1180.9,716.9 1181.9,715.1 1183.0,713.3 1184.0,711.7 1185.1,710.1 1186.2,708.7 1187.2,707.5 1188.3,706.4 1189.4,705.4 1190.4,704.6 1191.5,704.0 1192.6,703.6 1193.6,703.4 1194.7,703.3 1195.7,703.4 1196.8,703.6 1197.9,703.9 1198.9,704.2 1200.0,704.7 1201.1,705.2 1202.1,705.8 1203.2,706.3 1204.3,706.9 1205.3,707.5 1206.4,708.0 1207.4,708.4 1208.5,708.8 1209.6,709.1 1210.6,709.3 1211.7,709.4 1212.8,709.3 1213.8,709.1 1214.9,708.7 1216.0,708.0 1217.0,707.2 1218.1,706.2 1219.1,705.0 1220.2,703.5 1221.3,701.9 1222.3,700.1 1223.4,698.1 1224.5,696.0 1225.5,693.6 1226.6,691.2 1227.7,688.6 1228.7,685.8 1229.8,683.0 1230.9,680.1 1231.9,677.0 1233.0,674.0 1234.0,670.9 1235.1,667.7 1236.2,664.6 1237.2,661.5 1238.3,658.4 1239.4,655.4 1240.4,652.5 1241.5,649.7 1242.6,647.1 1243.6,644.6 1244.7,642.2 1245.7,640.1 1246.8,638.2 1247.9,636.5 1248.9,635.1 1250.0,634.0 1251.1,633.1 1252.1,632.6 1253.2,632.3 1254.3,632.3 1255.3,632.6 1256.4,633.2 1257.4,634.1 1258.5,635.2 1259.6,636.5 1260.6,638.1 1261.7,639.9 1262.8,641.9 1263.8,644.0 1264.9,646.3 1266.0,648.7 1267.0,651.3 1268.1,653.8 1269.1,656.5 1270.2,659.1 1271.3,661.8 1272.3,664.4 1273.4,666.9 1274.5,669.3 1275.5,671.6 1276.6,673.8 1277.7,675.8 1278.7,677.6 1279.8,679.2 1280.9,680.6 1281.9,681.7 1283.0,682.6 1284.0,683.2 1285.1,683.5 1286.2,683.5 1287.2,683.3 1288.3,682.7 1289.4,681.8 1290.4,680.7 1291.5,679.2 1292.6,677.5 1293.6,675.6 1294.7,673.4 1295.7,671.0 1296.8,668.5 1297.9,665.8 1298.9,662.9 1300.0,660.0 1301.1,656.9 1302.1,653.9 1303.2,650.8 1304.3,647.7 1305.3,644.6 1306.4,641.6 1307.4,638.6 1308.5,635.8 1309.6,633.0 1310.6,630.4 1311.7,627.9 1312.8,625.7 1313.8,623.6 1314.9,621.6 1316.0,620.0 1317.0,618.5 1318.1,617.2 1319.1,616.2 1320.2,615.5 1321.3,614.9 1322.3,614.6 1323.4,614.6 1324.5,614.8 1325.5,615.3 1326.6,616.0 1327.7,616.9 1328.7,618.0 1329.8,619.3 1330.9,620.7 1331.9,622.2 1333.0,623.9 1334.0,625.5 1335.1,627.3 1336.2,629.0 1337.2,630.7 1338.3,632.4 1339.4,634.1 1340.4,635.7 1341.5,637.2 1342.6,638.6 1343.6,639.9 1344.7,641.1 1345.7,642.2 1346.8,643.2 1347.9,644.0 1348.9,644.8 1350.0,645.3 1351.1,645.8 1352.1,646.1 1353.2,646.3 1354.3,646.4 1355.3,646.5 1356.4,646.4 1357.4,646.3 1358.5,646.1 1359.6,645.9 1360.6,645.7 1361.7,645.4 1362.8,645.2 1363.8,644.9 1364.9,644.7 1366.0,644.6 1367.0,644.4 1368.1,644.4 1369.1,644.4 1370.2,644.5 1371.3,644.8 1372.3,645.3 1373.4,645.9 1374.5,646.7 1375.5,647.7 1376.6,648.8 1377.7,650.2 1378.7,651.7 1379.8,653.4 1380.9,655.3 1381.9,657.4 1383.0,659.6 1384.0,662.0 1385.1,664.6 1386.2,667.4 1387.2,670.3 1388.3,673.4 1389.4,676.6 1390.4,680.0 1391.5,683.5 1392.6,687.1 1393.6,690.8 1394.7,694.7 1395.7,698.6 1396.8,702.6 1397.9,706.8 1398.9,711.0 1400.0,715.4 1401.1,719.8 1402.1,724.3 1403.2,728.9 1404.3,733.5 1405.3,738.2 1406.4,742.8 1407.4,747.5 1408.5,752.1 1409.6,756.7 1410.6,761.2 1411.7,765.6 1412.8,769.8 1413.8,773.9 1414.9,777.7 1416.0,781.3 1417.0,784.7 1418.1,787.7 1419.1,790.4 1420.2,792.8 1421.3,794.8 1422.3,796.4 1423.4,797.5 1424.5,798.2 1425.5,798.5 1426.6,798.5 1427.7,798.2 1428.7,797.7 1429.8,796.9 1430.9,796.0 1431.9,794.8 1433.0,793.5 1434.0,792.0 1435.1,790.3 1436.2,788.4 1437.2,786.4 1438.3,784.2 1439.4,781.9 1440.4,779.5 1441.5,776.9 1442.6,774.1 1443.6,771.2 1444.7,768.1 1445.7,764.8 1446.8,761.3 1447.9,757.6 1448.9,753.8 1450.0,749.8 1451.1,745.7 1452.1,741.5 1453.2,737.1 1454.3,732.6 1455.3,728.0 1456.4,723.2 1457.4,718.3 1458.5,713.3 1459.6,708.3 1460.6,703.1 1461.7,697.9 1462.8,692.7 1463.8,687.5 1464.9,682.4 1466.0,677.3 1467.0,672.2 1468.1,667.1 1469.1,661.8 1470.2,656.5 1471.3,651.0 1472.3,645.3 1473.4,639.4 1474.5,633.4 1475.5,627.4 1476.6,621.3 1477.7,615.3 1478.7,609.5 1479.8,603.8 1480.9,598.2 1481.9,592.7 1483.0,587.4 1484.0,582.2 1485.1,577.2 1486.2,572.5 1487.2,567.9 1488.3,563.5 1489.4,559.4 1490.4,555.5 1491.5,551.9 1492.6,548.5 1493.6,545.3 1494.7,542.4 1495.7,539.8 1496.8,537.3 1497.9,535.0 1498.9,533.0 1500.0,531.1 1501.1,529.6 1502.1,528.3 1503.2,527.3 1504.3,526.7 1505.3,526.3 1506.4,526.3 1507.4,526.6 1508.5,527.2 1509.6,528.2 1510.6,529.4 1511.7,531.0 1512.8,532.9 1513.8,535.0 1514.9,537.4 1516.0,540.1 1517.0,542.9 1518.1,546.0 1519.1,549.4 1520.2,552.9 1521.3,556.6 1522.3,560.4 1523.4,564.4 1524.5,568.6 1525.5,572.9 1526.6,577.3 1527.7,581.7 1528.7,586.3 1529.8,591.0 1530.9,595.6 1531.9,600.3 1533.0,605.0 1534.0,609.7 1535.1,614.3 1536.2,619.0 1537.2,623.6 1538.3,628.2 1539.4,632.8 1540.4,637.5 1541.5,642.1 1542.6,646.8 1543.6,651.5 1544.7,656.2 1545.7,661.0 1546.8,665.8 1547.9,670.7 1548.9,675.6 1550.0,680.5 1551.1,685.4 1552.1,690.2 1553.2,695.0 1554.3,699.7 1555.3,704.4 1556.4,709.0 1557.4,713.6 1558.5,718.1 1559.6,722.7 1560.6,727.1 1561.7,731.5 1562.8,735.9 1563.8,740.2 1564.9,744.4 1566.0,748.4 1567.0,752.3 1568.1,756.0 1569.1,759.4 1570.2,762.6 1571.3,765.5 1572.3,768.0 1573.4,770.2 1574.5,771.9 1575.5,773.3 1576.6,774.1 1577.7,774.6 1578.7,774.5 1579.8,774.1 1580.9,773.4 1581.9,772.3 1583.0,770.9 1584.0,769.1 1585.1,767.1 1586.2,764.8 1587.2,762.3 1588.3,759.6 1589.4,756.6 1590.4,753.5 1591.5,750.2 1592.6,746.8 1593.6,743.3 1594.7,739.7 1595.7,736.1 1596.8,732.5 1597.9,728.9 1598.9,725.4 1600.0,721.9 1601.1,718.4 1602.1,715.1 1603.2,712.0 1604.3,708.9 1605.3,706.1 1606.4,703.4 1607.4,701.0 1608.5,698.7 1609.6,696.7 1610.6,694.9 1611.7,693.4 1612.8,692.1 1613.8,691.1 1614.9,690.3 1616.0,689.8 1617.0,689.6 1618.1,689.6 1619.1,690.0 1620.2,690.5 1621.3,691.4 1622.3,692.5 1623.4,693.8 1624.5,695.4 1625.5,697.1 1626.6,698.9 1627.7,700.9 1628.7,703.0 1629.8,705.1 1630.9,707.3 1631.9,709.4 1633.0,711.5 1634.0,713.6 1635.1,715.5 1636.2,717.4 1637.2,719.0 1638.3,720.6 1639.4,721.9 1640.4,723.0 1641.5,723.9 1642.6,724.6 1643.6,725.1 1644.7,725.2 1645.7,725.1 1646.8,724.5 1647.9,723.4 1648.9,721.8 1650.0,719.8 1651.1,717.4 1652.1,714.6 1653.2,711.5 1654.3,708.0 1655.3,704.3 1656.4,700.3 1657.4,696.1 1658.5,691.7 1659.6,687.1 1660.6,682.4 1661.7,677.7 1662.8,673.0 1663.8,668.3 1664.9,663.7 1666.0,659.2 1667.0,654.5 1668.1,649.8 1669.1,644.8 1670.2,639.5 1671.3,634.0 1672.3,628.4 1673.4,623.0 1674.5,617.8 1675.5,613.2 1676.6,609.2 1677.7,605.7 1678.7,602.6 1679.8,599.6 1680.9,596.8 1681.9,594.1 1683.0,591.4 1684.0,588.8 1685.1,586.4 1686.2,584.2 1687.2,582.2 1688.3,580.5 1689.4,579.1 1690.4,578.1 1691.5,577.4 1692.6,577.1 1693.6,577.1 1694.7,577.5 1695.7,578.2 1696.8,579.1 1697.9,580.2 1698.9,581.5 1700.0,583.0 1701.1,584.6 1702.1,586.2 1703.2,588.0 1704.3,589.7 1705.3,591.5 1706.4,593.2 1707.4,594.9 1708.5,596.5 1709.6,598.1 1710.6,599.7 1711.7,601.2 1712.8,602.7 1713.8,604.2 1714.9,605.7 1716.0,607.2 1717.0,608.7 1718.1,610.3 1719.1,611.7 1720.2,613.2 1721.3,614.6 1722.3,616.1 1723.4,617.5 1724.5,618.9 1725.5,620.4 1726.6,621.9 1727.7,623.5 1728.7,625.2 1729.8,627.0 1730.9,628.9 1731.9,630.8 1733.0,632.9 1734.0,635.0 1735.1,637.2 1736.2,639.5 1737.2,641.9 1738.3,644.5 1739.4,647.2 1740.4,650.0 1741.5,652.9 1742.6,655.9 1743.6,659.0 1744.7,662.1 1745.7,665.4 1746.8,668.7 1747.9,672.1 1748.9,675.5 1750.0,679.1 1751.1,682.8 1752.1,686.5 1753.2,690.2 1754.3,694.0 1755.3,697.7 1756.4,701.3 1757.4,704.9 1758.5,708.4 1759.6,711.8 1760.6,715.2 1761.7,718.4 1762.8,721.4 1763.8,724.3 1764.9,727.0 1766.0,729.5 1767.0,731.8 1768.1,733.8 1769.1,735.6 1770.2,737.2 1771.3,738.6 1772.3,739.7 1773.4,740.6 1774.5,741.3 1775.5,741.7 1776.6,741.9 1777.7,741.8 1778.7,741.5 1779.8,741.1 1780.9,740.4 1781.9,739.5 1783.0,738.4 1784.0,737.2 1785.1,735.8 1786.2,734.3 1787.2,732.6 1788.3,730.9 1789.4,729.0 1790.4,727.1 1791.5,725.2 1792.6,723.3 1793.6,721.3 1794.7,719.3 1795.7,717.4 1796.8,715.6 1797.9,713.8 1798.9,712.1 1800.0,710.6 1801.1,709.1 1802.1,707.8 1803.2,706.7 1804.3,705.7 1805.3,704.9 1806.4,704.2 1807.4,703.7 1808.5,703.5 1809.6,703.3 1810.6,703.4 1811.7,703.5 1812.8,703.8 1813.8,704.1 1814.9,704.6 1816.0,705.1 1817.0,705.6 1818.1,706.2 1819.1,706.7 1820.2,707.3 1821.3,707.8 1822.3,708.3 1823.4,708.7 1824.5,709.0 1825.5,709.3 1826.6,709.4 1827.7,709.4 1828.7,709.2 1829.8,708.8 1830.9,708.2 1831.9,707.5 1833.0,706.5 1834.0,705.3 1835.1,704.0 1836.2,702.4 1837.2,700.7 1838.3,698.7 1839.4,696.6 1840.4,694.4 1841.5,691.9 1842.6,689.4 1843.6,686.7 1844.7,683.9 1845.7,681.0 1846.8,678.0 1847.9,674.9 1848.9,671.8 1850.0,668.7 1851.1,665.5 1852.1,662.4 1853.2,659.3 1854.3,656.3 1855.3,653.4 1856.4,650.6 1857.4,647.9 1858.5,645.3 1859.6,642.9 1860.6,640.7 1861.7,638.8 1862.8,637.0 1863.8,635.5 1864.9,634.3 1866.0,633.4 1867.0,632.7 1868.1,632.4 1869.1,632.3 1870.2,632.5 1871.3,633.0 1872.3,633.8 1873.4,634.8 1874.5,636.1 1875.5,637.6 1876.6,639.3 1877.7,641.3 1878.7,643.4 1879.8,645.6 1880.9,648.0 1881.9,650.5 1883.0,653.1 1884.0,655.7 1885.1,658.3 1886.2,661.0 1887.2,663.6 1888.3,666.1 1889.4,668.6 1890.4,671.0 1891.5,673.2 1892.6,675.2 1893.6,677.1 1894.7,678.7 1895.7,680.2 1896.8,681.4 1897.9,682.3 1898.9,683.0 1900.0,683.4 1901.1,683.5 1902.1,683.4 1903.2,682.9 1904.3,682.1 1905.3,681.1 1906.4,679.7 1907.4,678.1 1908.5,676.2 1909.6,674.1 1910.6,671.8 1911.7,669.2 1912.8,666.6 1913.8,663.8 1914.9,660.9 1916.0,657.9 1917.0,654.8 1918.1,651.7 1919.1,648.6 1920.2,645.5 1921.3,642.5 1922.3,639.5 1923.4,636.6 1924.5,633.8 1925.5,631.2 1926.6,628.7 1927.7,626.3 1928.7,624.2 1929.8,622.2 1930.9,620.4 1931.9,618.9 1933.0,617.6 1934.0,616.5 1935.1,615.7 1936.2,615.1 1937.2,614.7 1938.3,614.6 1939.4,614.7 1940.4,615.1 1941.5,615.7 1942.6,616.6 1943.6,617.6 1944.7,618.9 1945.7,620.2 1946.8,621.8 1947.9,623.4 1948.9,625.0 1950.0,626.8 1951.1,628.5 1952.1,630.2 1953.2,631.9 1954.3,633.6 1955.3,635.2 1956.4,636.7 1957.4,638.2 1958.5,639.5 1959.6,640.8 1960.6,641.9 1961.7,642.9 1962.8,643.8 1963.8,644.6 1964.9,645.2 1966.0,645.7 1967.0,646.0 1968.1,646.3 1969.1,646.4 1970.2,646.5 1971.3,646.4 1972.3,646.3 1973.4,646.2 1974.5,646.0 1975.5,645.7 1976.6,645.5 1977.7,645.3 1978.7,645.0 1979.8,644.8 1980.9,644.6 1981.9,644.5 1983.0,644.4 1984.0,644.4 1985.1,644.5 1986.2,644.7 1987.2,645.1 1988.3,645.7 1989.4,646.4 1990.4,647.3 1991.5,648.5 1992.6,649.7 1993.6,651.2 1994.7,652.9 1995.7,654.7 1996.8,656.7 1997.9,658.9 1998.9,661.3 2000.0,663.8 2001.1,666.6 2002.1,669.4 2003.2,672.5 2004.3,675.7 2005.3,679.0 2006.4,682.4 2007.4,686.0 2008.5,689.7 2009.6,693.5 2010.6,697.4 2011.7,701.4 2012.8,705.5 2013.8,709.8 2014.9,714.1 2016.0,718.5 2017.0,722.9 2018.1,727.5 2019.1,732.1 2020.2,736.8 2021.3,741.4 2022.3,746.1 2023.4,750.8 2024.5,755.4 2025.5,759.9 2026.6,764.3 2027.7,768.6 2028.7,772.7 2029.8,776.6 2030.9,780.3 2031.9,783.7 2033.0,786.8 2034.0,789.7 2035.1,792.1 2036.2,794.3 2037.2,796.0 2038.3,797.2 2039.4,798.1 2040.4,798.5 2041.5,798.6 2042.6,798.3 2043.6,797.8 2044.7,797.2 2045.7,796.3 2046.8,795.2 2047.9,793.9 2048.9,792.4 2050.0,790.8 2051.1,789.0 2052.1,787.0 2053.2,784.9 2054.3,782.6 2055.3,780.2 2056.4,777.7 2057.4,775.0 2058.5,772.1 2059.6,769.0 2060.6,765.8 2061.7,762.3 2062.8,758.7 2063.8,755.0 2064.9,751.1 2066.0,747.0 2067.0,742.8 2068.1,738.4 2069.1,734.0 2070.2,729.4 2071.3,724.7 2072.3,719.8 2073.4,714.9 2074.5,709.8 2075.5,704.7 2076.6,699.5 2077.7,694.3 2078.7,689.1 2079.8,683.9 2080.9,678.8 2081.9,673.7 2083.0,668.6 2084.0,663.4 2085.1,658.1 2086.2,652.7 2087.2,647.0 2088.3,641.2 2089.4,635.2 2090.4,629.2 2091.5,623.1 2092.6,617.1 2093.6,611.2 2094.7,605.5 2095.7,599.8 2096.8,594.3 2097.9,589.0 2098.9,583.7 2100.0,578.7 2101.1,573.9 2102.1,569.2 2103.2,564.8 2104.3,560.6 2105.3,556.7 2106.4,552.9 2107.4,549.5 2108.5,546.2 2109.6,543.3 2110.6,540.5 2111.7,538.0 2112.8,535.7 2113.8,533.5 2114.9,531.7 2116.0,530.0 2117.0,528.7 2118.1,527.6 2119.1,526.8 2120.2,526.4 2121.3,526.2 2122.3,526.5 2123.4,527.0 2124.5,527.9 2125.5,529.0 2126.6,530.5 2127.7,532.3 2128.7,534.3 2129.8,536.7 2130.9,539.2 2131.9,542.0 2133.0,545.1 2134.0,548.3 2135.1,551.8 2136.2,555.4 2137.2,559.2 2138.3,563.2 2139.4,567.3 2140.4,571.6 2141.5,575.9 2142.6,580.4 2143.6,584.9 2144.7,589.6 2145.7,594.2 2146.8,598.9 2147.9,603.6 2148.9,608.3 2150.0,612.9 2151.1,617.6 2152.1,622.2 2153.2,626.8 2154.3,631.4 2155.3,636.1 2156.4,640.7 2157.4,645.4 2158.5,650.1 2159.6,654.8 2160.6,659.6 2161.7,664.4 2162.8,669.2 2163.8,674.1 2164.9,679.0 2166.0,683.9 2167.0,688.8 2168.1,693.6 2169.1,698.3 2170.2,703.0 2171.3,707.6 2172.3,712.2 2173.4,716.8 2174.5,721.3 2175.5,725.8 2176.6,730.2 2177.7,734.6 2178.7,738.9 2179.8,743.1 2180.9,747.2 2181.9,751.2 2183.0,754.9 2184.0,758.4 2185.1,761.7 2186.2,764.6 2187.2,767.3 2188.3,769.5 2189.4,771.4 2190.4,772.9 2191.5,773.9 2192.6,774.5 2193.6,774.6 2194.7,774.3 2195.7,773.6 2196.8,772.6 2197.9,771.3 2198.9,769.7 2200.0,767.8 2201.1,765.6 2202.1,763.1 2203.2,760.4 2204.3,757.5 2205.3,754.4 2206.4,751.2 2207.4,747.8 2208.5,744.4 2209.6,740.8 2210.6,737.2 2211.7,733.6 2212.8,730.0 2213.8,726.4 2214.9,722.9 2216.0,719.5 2217.0,716.1 2218.1,712.9 2219.1,709.8 2220.2,706.9 2221.3,704.2 2222.3,701.7 2223.4,699.4 2224.5,697.3 2225.5,695.4 2226.6,693.8 2227.7,692.4 2228.7,691.3 2229.8,690.5 2230.9,689.9 2231.9,689.6 2233.0,689.6 2234.0,689.8 2235.1,690.3 2236.2,691.1 2237.2,692.1 2238.3,693.4 2239.4,694.9 2240.4,696.5 2241.5,698.4 2242.6,700.3 2243.6,702.4 2244.7,704.5 2245.7,706.6 2246.8,708.8 2247.9,710.9 2248.9,713.0 2250.0,715.0 2251.1,716.8 2252.1,718.6 2253.2,720.1 2254.3,721.5 2255.3,722.7 2256.4,723.7 2257.4,724.4 2258.5,725.0 2259.6,725.2 2260.6,725.2 2261.7,724.7 2262.8,723.8 2263.8,722.4 2264.9,720.5 2266.0,718.2 2267.0,715.5 2268.1,712.5 2269.1,709.1 2270.2,705.4 2271.3,701.5 2272.3,697.3 2273.4,693.0 2274.5,688.5 2275.5,683.9 2276.6,679.1 2277.7,674.4 2278.7,669.7 2279.8,665.1 2280.9,660.5 2281.9,655.9 2283.0,651.2 2284.0,646.3 2285.1,641.1 2286.2,635.7 2287.2,630.1 2288.3,624.6 2289.4,619.3 2290.4,614.6 2291.5,610.4 2292.6,606.7 2293.6,603.5" stroke="#00f"/>
</g>
<rect x="360.74" y="977.4" width="566.49" height="281.9" fill="#fff" stroke="#262626" stroke-width="4.5"/>
<g fill="none" stroke-width="10.2">
<path d="M380.74,1031 H593.62" stroke="#000" stroke-dasharray="43.6 15 11.7 15"/>
<path d="M380.74,1119 H593.62" stroke="#f00" stroke-dasharray="54.3 31"/>
<path d="M380.74,1206.7 H593.62" stroke="#00f"/>
</g>
<g font-family="Liberation Sans, sans-serif" fill="#000" font-size="64">
<text transform="translate(610.96,1057.5) scale(0.986,1)">FOFC</text>
<text transform="translate(610.96,1145.3) scale(0.986,1)">PD-FOFC</text>
<text transform="translate(610.96,1233.3) scale(0.986,1)">MD-FOFC</text>
</g>
<g font-family="Liberation Sans, sans-serif" fill="#262626" font-size="70.83">
<text x="348.72" y="1373.2" text-anchor="middle">0</text>
<text x="591.68" y="1373.2" text-anchor="middle">10</text>
<text x="834.63" y="1373.2" text-anchor="middle">20</text>
<text x="1077.58" y="1373.2" text-anchor="middle">30</text>
<text x="1320.53" y="1373.2" text-anchor="middle">40</text>
<text x="1563.48" y="1373.2" text-anchor="middle">50</text>
<text x="1806.44" y="1373.2" text-anchor="middle">60</text>
<text x="2049.39" y="1373.2" text-anchor="middle">70</text>
<text x="2292.34" y="1373.2" text-anchor="middle">80</text>
<text x="318.83" y="105.70" text-anchor="end">0.3</text>
<text x="318.83" y="304.78" text-anchor="end">0.2</text>
<text x="318.83" y="503.87" text-anchor="end">0.1</text>
<text x="318.83" y="702.95" text-anchor="end">0</text>
<text x="318.83" y="902.03" text-anchor="end">-0.1</text>
<text x="318.83" y="1101.12" text-anchor="end">-0.2</text>
<text x="318.83" y="1300.20" text-anchor="end">-0.3</text>
<text x="1319.26" y="1471.9" text-anchor="middle" font-size="77.9">Time (s)</text>
<text transform="translate(158.09,676.2) rotate(-90)" text-anchor="middle" font-size="77.9">Velocity (m/s)</text>
</g>
</g>
</svg>
</body></html>
